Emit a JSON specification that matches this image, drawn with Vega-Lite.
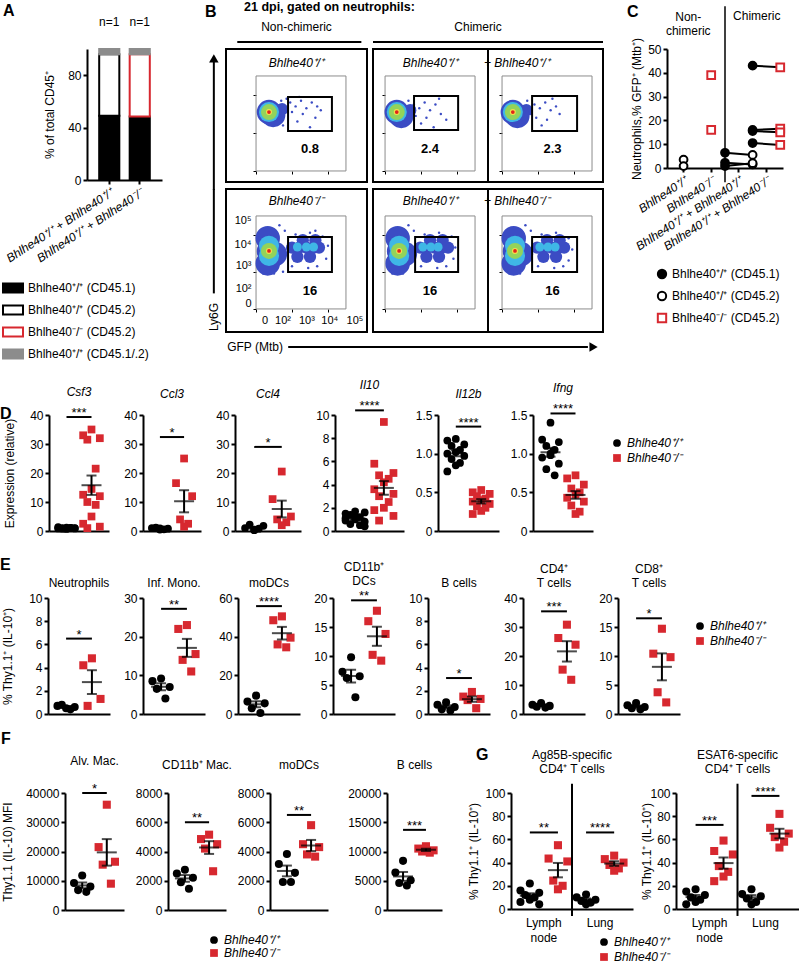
{
"$schema":"https://vega.github.io/schema/vega-lite/v6.json",
"padding":0,"autosize":{"type":"pad"},"background":"white",
"config":{"view":{"stroke":null},"font":"Liberation Sans",
"axis":{"domainColor":"black","domainWidth":2,"tickColor":"black","tickWidth":2,"tickSize":4,"labelColor":"black","labelFontSize":12,"titleColor":"black","titleFontSize":12,"titleFontWeight":"normal","grid":false,"labelPadding":2,"labelOverlap":false,"labelFlush":false},
"title":{"fontSize":12,"fontWeight":"normal","color":"black","frame":"group"},
"legend":{"labelFontSize":12,"labelColor":"black","padding":0},
"text":{"color":"black"}},
"datasets":{
"A":[
{"b":"Bhlhe40⁺/⁺ + Bhlhe40⁺/⁺","pop":"Bhlhe40⁺/⁺ (CD45.1)","v":49,"o":1},
{"b":"Bhlhe40⁺/⁺ + Bhlhe40⁺/⁺","pop":"Bhlhe40⁺/⁺ (CD45.2)","v":47,"o":2},
{"b":"Bhlhe40⁺/⁺ + Bhlhe40⁺/⁺","pop":"Bhlhe40⁺/⁺ (CD45.1/.2)","v":4,"o":3},
{"b":"Bhlhe40⁺/⁺ + Bhlhe40⁻/⁻","pop":"Bhlhe40⁺/⁺ (CD45.1)","v":48.5,"o":1},
{"b":"Bhlhe40⁺/⁺ + Bhlhe40⁻/⁻","pop":"Bhlhe40⁻/⁻ (CD45.2)","v":47.5,"o":2},
{"b":"Bhlhe40⁺/⁺ + Bhlhe40⁻/⁻","pop":"Bhlhe40⁺/⁺ (CD45.1/.2)","v":4,"o":3}],
"C":[
{"c":"c1","side":"C","pop":"Bhlhe40⁺/⁺ (CD45.2)","v":3.5},
{"c":"c1","side":"C","pop":"Bhlhe40⁺/⁺ (CD45.2)","v":0.8},
{"c":"c2","side":"C","pop":"Bhlhe40⁻/⁻ (CD45.2)","v":39},
{"c":"c2","side":"C","pop":"Bhlhe40⁻/⁻ (CD45.2)","v":16},
{"c":"c3","side":"L","pop":"Bhlhe40⁺/⁺ (CD45.1)","v":6.4,"pair":"a1"},
{"c":"c3","side":"R","pop":"Bhlhe40⁺/⁺ (CD45.2)","v":5.5,"pair":"a1"},
{"c":"c3","side":"L","pop":"Bhlhe40⁺/⁺ (CD45.1)","v":2.2,"pair":"a2"},
{"c":"c3","side":"R","pop":"Bhlhe40⁺/⁺ (CD45.2)","v":1.5,"pair":"a2"},
{"c":"c3","side":"L","pop":"Bhlhe40⁺/⁺ (CD45.1)","v":0.8,"pair":"a3"},
{"c":"c3","side":"R","pop":"Bhlhe40⁺/⁺ (CD45.2)","v":2.0,"pair":"a3"},
{"c":"c4","side":"L","pop":"Bhlhe40⁺/⁺ (CD45.1)","v":43,"pair":"b1"},
{"c":"c4","side":"R","pop":"Bhlhe40⁻/⁻ (CD45.2)","v":42.3,"pair":"b1"},
{"c":"c4","side":"L","pop":"Bhlhe40⁺/⁺ (CD45.1)","v":16,"pair":"b2"},
{"c":"c4","side":"R","pop":"Bhlhe40⁻/⁻ (CD45.2)","v":16.5,"pair":"b2"},
{"c":"c4","side":"L","pop":"Bhlhe40⁺/⁺ (CD45.1)","v":15.5,"pair":"b3"},
{"c":"c4","side":"R","pop":"Bhlhe40⁻/⁻ (CD45.2)","v":15,"pair":"b3"},
{"c":"c4","side":"L","pop":"Bhlhe40⁺/⁺ (CD45.1)","v":10.5,"pair":"b4"},
{"c":"c4","side":"R","pop":"Bhlhe40⁻/⁻ (CD45.2)","v":9.7,"pair":"b4"}],
"pts":[
{"p":"Csf3","g":"WT","m":3,"v":1.2},{"p":"Csf3","g":"WT","m":1,"v":0.9},{"p":"Csf3","g":"WT","m":5,"v":1.0},{"p":"Csf3","g":"WT","m":2,"v":0.8},{"p":"Csf3","g":"WT","m":4,"v":1.1},{"p":"Csf3","g":"WT","m":3,"v":0.7},{"p":"Csf3","g":"WT","m":1,"v":1.3},{"p":"Csf3","g":"WT","m":5,"v":0.9},{"p":"Csf3","g":"WT","m":2,"v":1.0},{"p":"Csf3","g":"WT","m":4,"v":1.1},
{"p":"Csf3","g":"KO","m":3,"v":35},{"p":"Csf3","g":"KO","m":1,"v":33},{"p":"Csf3","g":"KO","m":5,"v":32},{"p":"Csf3","g":"KO","m":2,"v":31.5},{"p":"Csf3","g":"KO","m":4,"v":21.5},{"p":"Csf3","g":"KO","m":3,"v":14.5},{"p":"Csf3","g":"KO","m":1,"v":12.5},{"p":"Csf3","g":"KO","m":5,"v":12},{"p":"Csf3","g":"KO","m":2,"v":10},{"p":"Csf3","g":"KO","m":4,"v":9},{"p":"Csf3","g":"KO","m":3,"v":5},{"p":"Csf3","g":"KO","m":1,"v":2.5},{"p":"Csf3","g":"KO","m":5,"v":1.5},{"p":"Csf3","g":"KO","m":2,"v":1},
{"p":"Ccl3","g":"WT","m":3,"v":0.5},{"p":"Ccl3","g":"WT","m":1,"v":1.0},{"p":"Ccl3","g":"WT","m":5,"v":0.8},{"p":"Ccl3","g":"WT","m":2,"v":1.2},{"p":"Ccl3","g":"WT","m":4,"v":0.6},{"p":"Ccl3","g":"WT","m":3,"v":0.9},
{"p":"Ccl3","g":"KO","m":3,"v":25},{"p":"Ccl3","g":"KO","m":1,"v":16.5},{"p":"Ccl3","g":"KO","m":5,"v":12},{"p":"Ccl3","g":"KO","m":2,"v":4},{"p":"Ccl3","g":"KO","m":4,"v":2.5},{"p":"Ccl3","g":"KO","m":3,"v":1.5},
{"p":"Ccl4","g":"WT","m":3,"v":0.5},{"p":"Ccl4","g":"WT","m":1,"v":1.0},{"p":"Ccl4","g":"WT","m":5,"v":1.8},{"p":"Ccl4","g":"WT","m":2,"v":2.2},{"p":"Ccl4","g":"WT","m":4,"v":0.8},{"p":"Ccl4","g":"WT","m":3,"v":0.3},
{"p":"Ccl4","g":"KO","m":3,"v":20.5},{"p":"Ccl4","g":"KO","m":1,"v":11},{"p":"Ccl4","g":"KO","m":5,"v":5},{"p":"Ccl4","g":"KO","m":2,"v":4},{"p":"Ccl4","g":"KO","m":4,"v":3},{"p":"Ccl4","g":"KO","m":3,"v":2},
{"p":"Il10","g":"WT","m":3,"v":1.7},{"p":"Il10","g":"WT","m":1,"v":1.5},{"p":"Il10","g":"WT","m":5,"v":1.6},{"p":"Il10","g":"WT","m":2,"v":1.4},{"p":"Il10","g":"WT","m":4,"v":1.2},{"p":"Il10","g":"WT","m":3,"v":1.0},{"p":"Il10","g":"WT","m":1,"v":0.9},{"p":"Il10","g":"WT","m":5,"v":0.8},{"p":"Il10","g":"WT","m":2,"v":0.6},{"p":"Il10","g":"WT","m":4,"v":0.5},{"p":"Il10","g":"WT","m":3,"v":1.3},{"p":"Il10","g":"WT","m":1,"v":1.1},{"p":"Il10","g":"WT","m":5,"v":0.4},
{"p":"Il10","g":"KO","m":3,"v":9.4},{"p":"Il10","g":"KO","m":1,"v":5.8},{"p":"Il10","g":"KO","m":5,"v":5.0},{"p":"Il10","g":"KO","m":2,"v":4.8},{"p":"Il10","g":"KO","m":4,"v":4.5},{"p":"Il10","g":"KO","m":3,"v":4.2},{"p":"Il10","g":"KO","m":1,"v":3.6},{"p":"Il10","g":"KO","m":5,"v":3.2},{"p":"Il10","g":"KO","m":2,"v":3.0},{"p":"Il10","g":"KO","m":4,"v":2.5},{"p":"Il10","g":"KO","m":3,"v":2.0},{"p":"Il10","g":"KO","m":1,"v":1.8},{"p":"Il10","g":"KO","m":5,"v":1.3},{"p":"Il10","g":"KO","m":2,"v":0.9},
{"p":"Il12b","g":"WT","m":3,"v":1.19},{"p":"Il12b","g":"WT","m":1,"v":1.17},{"p":"Il12b","g":"WT","m":5,"v":1.12},{"p":"Il12b","g":"WT","m":2,"v":1.1},{"p":"Il12b","g":"WT","m":4,"v":1.05},{"p":"Il12b","g":"WT","m":3,"v":1.02},{"p":"Il12b","g":"WT","m":1,"v":1.0},{"p":"Il12b","g":"WT","m":5,"v":0.97},{"p":"Il12b","g":"WT","m":2,"v":0.93},{"p":"Il12b","g":"WT","m":4,"v":0.88},{"p":"Il12b","g":"WT","m":3,"v":0.85},{"p":"Il12b","g":"WT","m":1,"v":0.77},
{"p":"Il12b","g":"KO","m":3,"v":0.53},{"p":"Il12b","g":"KO","m":1,"v":0.5},{"p":"Il12b","g":"KO","m":5,"v":0.48},{"p":"Il12b","g":"KO","m":2,"v":0.45},{"p":"Il12b","g":"KO","m":4,"v":0.42},{"p":"Il12b","g":"KO","m":3,"v":0.4},{"p":"Il12b","g":"KO","m":1,"v":0.38},{"p":"Il12b","g":"KO","m":5,"v":0.35},{"p":"Il12b","g":"KO","m":2,"v":0.32},{"p":"Il12b","g":"KO","m":4,"v":0.3},{"p":"Il12b","g":"KO","m":3,"v":0.26},{"p":"Il12b","g":"KO","m":1,"v":0.22},
{"p":"Ifng","g":"WT","m":3,"v":1.4},{"p":"Ifng","g":"WT","m":1,"v":1.18},{"p":"Ifng","g":"WT","m":5,"v":1.15},{"p":"Ifng","g":"WT","m":2,"v":1.1},{"p":"Ifng","g":"WT","m":4,"v":1.05},{"p":"Ifng","g":"WT","m":3,"v":1.0},{"p":"Ifng","g":"WT","m":1,"v":0.95},{"p":"Ifng","g":"WT","m":5,"v":0.87},{"p":"Ifng","g":"WT","m":2,"v":0.8},{"p":"Ifng","g":"WT","m":4,"v":0.72},{"p":"Ifng","g":"WT","m":3,"v":0.98},
{"p":"Ifng","g":"KO","m":3,"v":0.72},{"p":"Ifng","g":"KO","m":1,"v":0.68},{"p":"Ifng","g":"KO","m":5,"v":0.6},{"p":"Ifng","g":"KO","m":2,"v":0.55},{"p":"Ifng","g":"KO","m":4,"v":0.5},{"p":"Ifng","g":"KO","m":3,"v":0.47},{"p":"Ifng","g":"KO","m":1,"v":0.43},{"p":"Ifng","g":"KO","m":5,"v":0.38},{"p":"Ifng","g":"KO","m":2,"v":0.33},{"p":"Ifng","g":"KO","m":4,"v":0.25},{"p":"Ifng","g":"KO","m":3,"v":0.22},
{"p":"Neut","g":"WT","m":3,"v":0.5},{"p":"Neut","g":"WT","m":1,"v":0.7},{"p":"Neut","g":"WT","m":5,"v":0.6},{"p":"Neut","g":"WT","m":2,"v":0.8},{"p":"Neut","g":"WT","m":4,"v":0.4},
{"p":"Neut","g":"KO","m":3,"v":4.8},{"p":"Neut","g":"KO","m":1,"v":4.2},{"p":"Neut","g":"KO","m":5,"v":1.3},{"p":"Neut","g":"KO","m":2,"v":0.7},
{"p":"Mono","g":"WT","m":3,"v":9.2},{"p":"Mono","g":"WT","m":1,"v":8.5},{"p":"Mono","g":"WT","m":5,"v":7},{"p":"Mono","g":"WT","m":2,"v":6.5},{"p":"Mono","g":"WT","m":4,"v":4},
{"p":"Mono","g":"KO","m":3,"v":23},{"p":"Mono","g":"KO","m":1,"v":22},{"p":"Mono","g":"KO","m":5,"v":15.5},{"p":"Mono","g":"KO","m":2,"v":14},{"p":"Mono","g":"KO","m":4,"v":11},
{"p":"EmoDC","g":"WT","m":3,"v":9.5},{"p":"EmoDC","g":"WT","m":1,"v":6.5},{"p":"EmoDC","g":"WT","m":5,"v":5.5},{"p":"EmoDC","g":"WT","m":2,"v":3},{"p":"EmoDC","g":"WT","m":4,"v":0.5},
{"p":"EmoDC","g":"KO","m":3,"v":50.5},{"p":"EmoDC","g":"KO","m":1,"v":48.5},{"p":"EmoDC","g":"KO","m":5,"v":39.5},{"p":"EmoDC","g":"KO","m":2,"v":36},{"p":"EmoDC","g":"KO","m":4,"v":34.5},
{"p":"DC","g":"WT","m":3,"v":9.8},{"p":"DC","g":"WT","m":1,"v":7.3},{"p":"DC","g":"WT","m":5,"v":6.5},{"p":"DC","g":"WT","m":2,"v":6.2},{"p":"DC","g":"WT","m":4,"v":2.9},
{"p":"DC","g":"KO","m":3,"v":17.8},{"p":"DC","g":"KO","m":1,"v":16},{"p":"DC","g":"KO","m":5,"v":13.8},{"p":"DC","g":"KO","m":2,"v":10.2},{"p":"DC","g":"KO","m":4,"v":9.2},
{"p":"EB","g":"WT","m":3,"v":1.0},{"p":"EB","g":"WT","m":1,"v":0.8},{"p":"EB","g":"WT","m":5,"v":0.6},{"p":"EB","g":"WT","m":2,"v":0.4},{"p":"EB","g":"WT","m":4,"v":0.3},
{"p":"EB","g":"KO","m":3,"v":1.9},{"p":"EB","g":"KO","m":1,"v":1.5},{"p":"EB","g":"KO","m":5,"v":1.3},{"p":"EB","g":"KO","m":2,"v":1.2},{"p":"EB","g":"KO","m":4,"v":0.5},
{"p":"CD4","g":"WT","m":3,"v":3.8},{"p":"CD4","g":"WT","m":1,"v":3.2},{"p":"CD4","g":"WT","m":5,"v":2.8},{"p":"CD4","g":"WT","m":2,"v":2.5},{"p":"CD4","g":"WT","m":4,"v":2.2},
{"p":"CD4","g":"KO","m":3,"v":30.8},{"p":"CD4","g":"KO","m":1,"v":26.2},{"p":"CD4","g":"KO","m":5,"v":23.9},{"p":"CD4","g":"KO","m":2,"v":15.3},{"p":"CD4","g":"KO","m":4,"v":11.8},
{"p":"CD8","g":"WT","m":3,"v":1.9},{"p":"CD8","g":"WT","m":1,"v":1.5},{"p":"CD8","g":"WT","m":5,"v":1.2},{"p":"CD8","g":"WT","m":2,"v":1.0},{"p":"CD8","g":"WT","m":4,"v":0.8},
{"p":"CD8","g":"KO","m":3,"v":14.7},{"p":"CD8","g":"KO","m":1,"v":10.4},{"p":"CD8","g":"KO","m":5,"v":9.8},{"p":"CD8","g":"KO","m":2,"v":3.75},{"p":"CD8","g":"KO","m":4,"v":2.0},
{"p":"Alv","g":"WT","m":3,"v":11800},{"p":"Alv","g":"WT","m":1,"v":9200},{"p":"Alv","g":"WT","m":5,"v":8000},{"p":"Alv","g":"WT","m":2,"v":6800},{"p":"Alv","g":"WT","m":4,"v":6200},
{"p":"Alv","g":"KO","m":3,"v":36000},{"p":"Alv","g":"KO","m":1,"v":21500},{"p":"Alv","g":"KO","m":5,"v":16500},{"p":"Alv","g":"KO","m":2,"v":15500},{"p":"Alv","g":"KO","m":4,"v":9000},
{"p":"Mac","g":"WT","m":3,"v":2750},{"p":"Mac","g":"WT","m":1,"v":2500},{"p":"Mac","g":"WT","m":5,"v":2200},{"p":"Mac","g":"WT","m":2,"v":1900},{"p":"Mac","g":"WT","m":4,"v":1450},
{"p":"Mac","g":"KO","m":3,"v":5150},{"p":"Mac","g":"KO","m":1,"v":4850},{"p":"Mac","g":"KO","m":5,"v":4500},{"p":"Mac","g":"KO","m":2,"v":4200},{"p":"Mac","g":"KO","m":4,"v":2650},
{"p":"FmoDC","g":"WT","m":3,"v":3830},{"p":"FmoDC","g":"WT","m":1,"v":3140},{"p":"FmoDC","g":"WT","m":5,"v":2540},{"p":"FmoDC","g":"WT","m":2,"v":1920},{"p":"FmoDC","g":"WT","m":4,"v":1920},
{"p":"FmoDC","g":"KO","m":3,"v":5800},{"p":"FmoDC","g":"KO","m":1,"v":4500},{"p":"FmoDC","g":"KO","m":5,"v":4300},{"p":"FmoDC","g":"KO","m":2,"v":3800},{"p":"FmoDC","g":"KO","m":4,"v":3650},
{"p":"FB","g":"WT","m":3,"v":8400},{"p":"FB","g":"WT","m":1,"v":6400},{"p":"FB","g":"WT","m":5,"v":5100},{"p":"FB","g":"WT","m":2,"v":4600},{"p":"FB","g":"WT","m":4,"v":4200},
{"p":"FB","g":"KO","m":3,"v":10900},{"p":"FB","g":"KO","m":1,"v":10500},{"p":"FB","g":"KO","m":5,"v":10200},{"p":"FB","g":"KO","m":2,"v":10000},{"p":"FB","g":"KO","m":4,"v":9800}],
"gpts":[
{"p":"Ag85B","g":"LN|WT","k":"WT","m":3,"v":22},{"p":"Ag85B","g":"LN|WT","k":"WT","m":1,"v":16},{"p":"Ag85B","g":"LN|WT","k":"WT","m":5,"v":14},{"p":"Ag85B","g":"LN|WT","k":"WT","m":2,"v":12},{"p":"Ag85B","g":"LN|WT","k":"WT","m":4,"v":10},{"p":"Ag85B","g":"LN|WT","k":"WT","m":3,"v":8},{"p":"Ag85B","g":"LN|WT","k":"WT","m":1,"v":6},{"p":"Ag85B","g":"LN|WT","k":"WT","m":5,"v":4},
{"p":"Ag85B","g":"LN|KO","k":"KO","m":3,"v":55},{"p":"Ag85B","g":"LN|KO","k":"KO","m":1,"v":43.5},{"p":"Ag85B","g":"LN|KO","k":"KO","m":5,"v":41},{"p":"Ag85B","g":"LN|KO","k":"KO","m":2,"v":24.5},{"p":"Ag85B","g":"LN|KO","k":"KO","m":4,"v":20},{"p":"Ag85B","g":"LN|KO","k":"KO","m":3,"v":17},
{"p":"Ag85B","g":"Lu|WT","k":"WT","m":3,"v":12.5},{"p":"Ag85B","g":"Lu|WT","k":"WT","m":1,"v":10},{"p":"Ag85B","g":"Lu|WT","k":"WT","m":5,"v":8},{"p":"Ag85B","g":"Lu|WT","k":"WT","m":2,"v":7},{"p":"Ag85B","g":"Lu|WT","k":"WT","m":4,"v":5.5},{"p":"Ag85B","g":"Lu|WT","k":"WT","m":3,"v":4},
{"p":"Ag85B","g":"Lu|KO","k":"KO","m":3,"v":46},{"p":"Ag85B","g":"Lu|KO","k":"KO","m":1,"v":43},{"p":"Ag85B","g":"Lu|KO","k":"KO","m":5,"v":40},{"p":"Ag85B","g":"Lu|KO","k":"KO","m":2,"v":38},{"p":"Ag85B","g":"Lu|KO","k":"KO","m":4,"v":35},{"p":"Ag85B","g":"Lu|KO","k":"KO","m":3,"v":33},
{"p":"ESAT6","g":"LN|WT","k":"WT","m":3,"v":17},{"p":"ESAT6","g":"LN|WT","k":"WT","m":1,"v":15},{"p":"ESAT6","g":"LN|WT","k":"WT","m":5,"v":12},{"p":"ESAT6","g":"LN|WT","k":"WT","m":2,"v":10},{"p":"ESAT6","g":"LN|WT","k":"WT","m":4,"v":8},{"p":"ESAT6","g":"LN|WT","k":"WT","m":3,"v":6},{"p":"ESAT6","g":"LN|WT","k":"WT","m":1,"v":4},
{"p":"ESAT6","g":"LN|KO","k":"KO","m":3,"v":59},{"p":"ESAT6","g":"LN|KO","k":"KO","m":1,"v":50},{"p":"ESAT6","g":"LN|KO","k":"KO","m":5,"v":47},{"p":"ESAT6","g":"LN|KO","k":"KO","m":2,"v":37},{"p":"ESAT6","g":"LN|KO","k":"KO","m":4,"v":32},{"p":"ESAT6","g":"LN|KO","k":"KO","m":3,"v":28},{"p":"ESAT6","g":"LN|KO","k":"KO","m":1,"v":24},
{"p":"ESAT6","g":"Lu|WT","k":"WT","m":3,"v":17},{"p":"ESAT6","g":"Lu|WT","k":"WT","m":1,"v":13},{"p":"ESAT6","g":"Lu|WT","k":"WT","m":5,"v":11},{"p":"ESAT6","g":"Lu|WT","k":"WT","m":2,"v":9},{"p":"ESAT6","g":"Lu|WT","k":"WT","m":4,"v":6},{"p":"ESAT6","g":"Lu|WT","k":"WT","m":3,"v":4},
{"p":"ESAT6","g":"Lu|KO","k":"KO","m":3,"v":82},{"p":"ESAT6","g":"Lu|KO","k":"KO","m":1,"v":70},{"p":"ESAT6","g":"Lu|KO","k":"KO","m":5,"v":65},{"p":"ESAT6","g":"Lu|KO","k":"KO","m":2,"v":62},{"p":"ESAT6","g":"Lu|KO","k":"KO","m":4,"v":58},{"p":"ESAT6","g":"Lu|KO","k":"KO","m":3,"v":53}],
"sig":[
{"p":"Csf3","g":"WT","g2":"KO","v":39.3,"s":"***"},{"p":"Ccl3","g":"WT","g2":"KO","v":32.4,"s":"*"},{"p":"Ccl4","g":"WT","g2":"KO","v":29,"s":"*"},{"p":"Il10","g":"WT","g2":"KO","v":10.4,"s":"****"},{"p":"Il12b","g":"WT","g2":"KO","v":1.35,"s":"****"},{"p":"Ifng","g":"WT","g2":"KO","v":1.52,"s":"****"},
{"p":"Neut","g":"WT","g2":"KO","v":6.5,"s":"*"},{"p":"Mono","g":"WT","g2":"KO","v":27.2,"s":"**"},{"p":"EmoDC","g":"WT","g2":"KO","v":55.8,"s":"****"},{"p":"DC","g":"WT","g2":"KO","v":19.6,"s":"**"},{"p":"EB","g":"WT","g2":"KO","v":3.1,"s":"*"},{"p":"CD4","g":"WT","g2":"KO","v":35.4,"s":"***"},{"p":"CD8","g":"WT","g2":"KO","v":16.5,"s":"*"},
{"p":"Alv","g":"WT","g2":"KO","v":40000,"s":"*"},{"p":"Mac","g":"WT","g2":"KO","v":6000,"s":"**"},{"p":"FmoDC","g":"WT","g2":"KO","v":6500,"s":"**"},{"p":"FB","g":"WT","g2":"KO","v":13700,"s":"***"},
{"p":"Ag85B","g":"LN|WT","g2":"LN|KO","v":66,"s":"**"},{"p":"Ag85B","g":"Lu|WT","g2":"Lu|KO","v":66,"s":"****"},{"p":"ESAT6","g":"LN|WT","g2":"LN|KO","v":72.5,"s":"***"},{"p":"ESAT6","g":"Lu|WT","g2":"Lu|KO","v":97.5,"s":"****"}],
"gann":[
{"p":"Ag85B","g":"LN|WT","v":-8,"t":"Lymph\nnode"},{"p":"Ag85B","g":"Lu|WT","v":-8,"t":"Lung"},
{"p":"ESAT6","g":"LN|WT","v":-8,"t":"Lymph\nnode"},{"p":"ESAT6","g":"Lu|WT","v":-8,"t":"Lung"}],
"gdiv":[
{"p":"Ag85B","g":"Lu|WT","v":-6,"v2":108},{"p":"ESAT6","g":"Lu|WT","v":-6,"v2":108}],
"flow":[
{"f":"TL","x":1.9,"y":3.6,"r":1},{"f":"TL","x":2.2,"y":3.4,"r":1},{"f":"TL","x":2.5,"y":3.7,"r":1},{"f":"TL","x":2.8,"y":3.3,"r":1},{"f":"TL","x":3.1,"y":3.6,"r":1},{"f":"TL","x":2.0,"y":3.1,"r":1},{"f":"TL","x":2.6,"y":3.0,"r":1},{"f":"TL","x":3.4,"y":3.4,"r":1},{"f":"TL","x":1.7,"y":3.8,"r":1},{"f":"TL","x":2.3,"y":2.6,"r":1},{"f":"TL","x":3.0,"y":2.3,"r":1},{"f":"TL","x":1.5,"y":2.4,"r":1},{"f":"TL","x":3.6,"y":3.2,"r":1},{"f":"TL","x":1.4,"y":3.7,"r":1},{"f":"TL","x":2.4,"y":3.9,"r":1},{"f":"TL","x":3.3,"y":2.8,"r":1},
{"f":"TL","x":1.45,"y":3.25,"r":5},{"f":"TL","x":0.95,"y":2.95,"r":8},{"f":"TL","x":0.72,"y":3.1,"r":8},{"f":"TL","x":0.72,"y":3.1,"r":7},{"f":"TL","x":0.72,"y":3.1,"r":6},{"f":"TL","x":0.72,"y":3.1,"r":3},{"f":"TL","x":0.72,"y":3.1,"r":2},
{"f":"TR1","x":1.6,"y":3.5,"r":1},{"f":"TR1","x":1.9,"y":3.3,"r":1},{"f":"TR1","x":2.2,"y":3.6,"r":1},{"f":"TR1","x":2.5,"y":3.2,"r":1},{"f":"TR1","x":2.8,"y":3.5,"r":1},{"f":"TR1","x":1.7,"y":2.9,"r":1},{"f":"TR1","x":2.3,"y":2.8,"r":1},{"f":"TR1","x":3.1,"y":3.0,"r":1},{"f":"TR1","x":2.0,"y":2.5,"r":1},{"f":"TR1","x":2.7,"y":2.3,"r":1},{"f":"TR1","x":3.4,"y":2.7,"r":1},{"f":"TR1","x":1.3,"y":3.7,"r":1},{"f":"TR1","x":3.0,"y":3.8,"r":1},
{"f":"TR1","x":1.4,"y":3.2,"r":5},{"f":"TR1","x":0.9,"y":2.9,"r":8},{"f":"TR1","x":0.65,"y":3.1,"r":8},{"f":"TR1","x":0.65,"y":3.1,"r":7},{"f":"TR1","x":0.65,"y":3.1,"r":6},{"f":"TR1","x":0.65,"y":3.1,"r":3},{"f":"TR1","x":0.65,"y":3.1,"r":2},
{"f":"TR2","x":1.8,"y":3.5,"r":1},{"f":"TR2","x":2.1,"y":3.3,"r":1},{"f":"TR2","x":2.4,"y":3.6,"r":1},{"f":"TR2","x":2.7,"y":3.2,"r":1},{"f":"TR2","x":3.0,"y":3.4,"r":1},{"f":"TR2","x":1.9,"y":2.8,"r":1},{"f":"TR2","x":2.5,"y":2.7,"r":1},{"f":"TR2","x":3.2,"y":3.0,"r":1},{"f":"TR2","x":2.2,"y":2.4,"r":1},{"f":"TR2","x":1.6,"y":3.0,"r":1},{"f":"TR2","x":1.4,"y":3.7,"r":1},{"f":"TR2","x":2.8,"y":3.8,"r":1},
{"f":"TR2","x":1.35,"y":3.2,"r":5},{"f":"TR2","x":0.85,"y":2.9,"r":8},{"f":"TR2","x":0.6,"y":3.1,"r":8},{"f":"TR2","x":0.6,"y":3.1,"r":7},{"f":"TR2","x":0.6,"y":3.1,"r":6},{"f":"TR2","x":0.6,"y":3.1,"r":3},{"f":"TR2","x":0.6,"y":3.1,"r":2},
{"f":"BL","x":1.6,"y":4.2,"r":1},{"f":"BL","x":2.2,"y":4.0,"r":1},{"f":"BL","x":3.0,"y":4.1,"r":1},{"f":"BL","x":3.7,"y":3.9,"r":1},{"f":"BL","x":4.0,"y":3.4,"r":1},{"f":"BL","x":3.9,"y":2.7,"r":1},{"f":"BL","x":2.0,"y":2.3,"r":1},{"f":"BL","x":2.9,"y":2.2,"r":1},{"f":"BL","x":1.3,"y":4.5,"r":1},{"f":"BL","x":1.0,"y":1.9,"r":1},{"f":"BL","x":0.4,"y":1.9,"r":1},{"f":"BL","x":3.4,"y":2.3,"r":1},{"f":"BL","x":1.5,"y":2.0,"r":1},{"f":"BL","x":3.3,"y":4.2,"r":1},
{"f":"BL","x":2.0,"y":3.3,"r":5},{"f":"BL","x":2.4,"y":3.3,"r":5},{"f":"BL","x":2.8,"y":3.3,"r":5},{"f":"BL","x":3.2,"y":3.3,"r":5},{"f":"BL","x":3.5,"y":3.3,"r":5},{"f":"BL","x":2.3,"y":2.8,"r":5},{"f":"BL","x":3.0,"y":2.8,"r":5},{"f":"BL","x":2.6,"y":3.7,"r":5},{"f":"BL","x":3.3,"y":3.7,"r":5},
{"f":"BL","x":2.3,"y":3.33,"r":4},{"f":"BL","x":2.8,"y":3.33,"r":4},{"f":"BL","x":3.2,"y":3.33,"r":4},
{"f":"BL","x":0.65,"y":3.8,"r":8},{"f":"BL","x":0.72,"y":3.1,"r":8},{"f":"BL","x":0.65,"y":2.45,"r":8},{"f":"BL","x":1.05,"y":2.95,"r":8},{"f":"BL","x":0.72,"y":3.4,"r":7},{"f":"BL","x":0.72,"y":2.85,"r":7},{"f":"BL","x":0.72,"y":3.12,"r":6},{"f":"BL","x":0.72,"y":3.12,"r":3},{"f":"BL","x":0.72,"y":3.12,"r":2},
{"f":"BR1","x":1.6,"y":4.2,"r":1},{"f":"BR1","x":2.2,"y":4.0,"r":1},{"f":"BR1","x":3.0,"y":4.1,"r":1},{"f":"BR1","x":3.7,"y":3.9,"r":1},{"f":"BR1","x":3.9,"y":3.3,"r":1},{"f":"BR1","x":3.8,"y":2.7,"r":1},{"f":"BR1","x":2.0,"y":2.3,"r":1},{"f":"BR1","x":2.9,"y":2.2,"r":1},{"f":"BR1","x":1.3,"y":4.5,"r":1},{"f":"BR1","x":1.0,"y":1.9,"r":1},{"f":"BR1","x":0.4,"y":1.9,"r":1},{"f":"BR1","x":3.4,"y":2.3,"r":1},
{"f":"BR1","x":1.95,"y":3.3,"r":5},{"f":"BR1","x":2.35,"y":3.3,"r":5},{"f":"BR1","x":2.75,"y":3.3,"r":5},{"f":"BR1","x":3.15,"y":3.3,"r":5},{"f":"BR1","x":3.5,"y":3.3,"r":5},{"f":"BR1","x":2.3,"y":2.8,"r":5},{"f":"BR1","x":3.0,"y":2.8,"r":5},{"f":"BR1","x":2.5,"y":3.7,"r":5},{"f":"BR1","x":3.2,"y":3.7,"r":5},
{"f":"BR1","x":2.1,"y":3.33,"r":4},{"f":"BR1","x":2.55,"y":3.33,"r":4},{"f":"BR1","x":2.95,"y":3.33,"r":4},
{"f":"BR1","x":0.7,"y":3.8,"r":8},{"f":"BR1","x":0.78,"y":3.1,"r":8},{"f":"BR1","x":0.7,"y":2.45,"r":8},{"f":"BR1","x":1.1,"y":2.95,"r":8},{"f":"BR1","x":0.78,"y":3.4,"r":7},{"f":"BR1","x":0.78,"y":2.85,"r":7},{"f":"BR1","x":0.78,"y":3.12,"r":6},{"f":"BR1","x":0.78,"y":3.12,"r":3},{"f":"BR1","x":0.78,"y":3.12,"r":2},
{"f":"BR2","x":1.6,"y":4.2,"r":1},{"f":"BR2","x":2.2,"y":4.0,"r":1},{"f":"BR2","x":3.0,"y":4.1,"r":1},{"f":"BR2","x":3.7,"y":3.8,"r":1},{"f":"BR2","x":3.9,"y":3.2,"r":1},{"f":"BR2","x":3.7,"y":2.6,"r":1},{"f":"BR2","x":2.0,"y":2.3,"r":1},{"f":"BR2","x":2.9,"y":2.2,"r":1},{"f":"BR2","x":1.3,"y":4.5,"r":1},{"f":"BR2","x":1.0,"y":1.9,"r":1},{"f":"BR2","x":0.4,"y":1.9,"r":1},{"f":"BR2","x":3.4,"y":2.3,"r":1},
{"f":"BR2","x":1.95,"y":3.3,"r":5},{"f":"BR2","x":2.35,"y":3.3,"r":5},{"f":"BR2","x":2.75,"y":3.3,"r":5},{"f":"BR2","x":3.15,"y":3.3,"r":5},{"f":"BR2","x":3.45,"y":3.3,"r":5},{"f":"BR2","x":2.3,"y":2.8,"r":5},{"f":"BR2","x":3.0,"y":2.8,"r":5},{"f":"BR2","x":2.5,"y":3.7,"r":5},{"f":"BR2","x":3.2,"y":3.7,"r":5},
{"f":"BR2","x":2.1,"y":3.33,"r":4},{"f":"BR2","x":2.55,"y":3.33,"r":4},{"f":"BR2","x":2.95,"y":3.33,"r":4},
{"f":"BR2","x":0.65,"y":3.8,"r":8},{"f":"BR2","x":0.72,"y":3.1,"r":8},{"f":"BR2","x":0.65,"y":2.45,"r":8},{"f":"BR2","x":1.05,"y":2.95,"r":8},{"f":"BR2","x":0.72,"y":3.4,"r":7},{"f":"BR2","x":0.72,"y":2.85,"r":7},{"f":"BR2","x":0.72,"y":3.12,"r":6},{"f":"BR2","x":0.72,"y":3.12,"r":3},{"f":"BR2","x":0.72,"y":3.12,"r":2}],
"gates":[
{"f":"TL","x1":1.78,"x2":4.22,"y1":2.1,"y2":3.89,"cx":3.0,"ty":1.16,"pct":"0.8"},
{"f":"TR1","x1":1.61,"x2":4.06,"y1":2.16,"y2":3.95,"cx":2.5,"ty":1.16,"pct":"2.4"},
{"f":"TR2","x1":1.67,"x2":4.17,"y1":2.1,"y2":3.95,"cx":2.8,"ty":1.16,"pct":"2.3"},
{"f":"BL","x1":1.78,"x2":4.22,"y1":1.99,"y2":3.87,"cx":3.0,"ty":0.97,"pct":"16"},
{"f":"BR1","x1":1.67,"x2":4.06,"y1":1.99,"y2":3.87,"cx":2.5,"ty":0.97,"pct":"16"},
{"f":"BR2","x1":1.67,"x2":4.17,"y1":1.99,"y2":3.87,"cx":2.8,"ty":0.97,"pct":"16"}],
"blx":[{"p":0.5,"t":"0"},{"p":1.5,"t":"10²"},{"p":2.83,"t":"10³"},{"p":4.1,"t":"10⁴"},{"p":5.5,"t":"10⁵"}],
"bly":[{"p":0.27,"t":"0"},{"p":1.08,"t":"10²"},{"p":2.31,"t":"10³"},{"p":3.44,"t":"10⁴"},{"p":4.75,"t":"10⁵"}]
},
"spacing":0,"bounds":"flush",
"resolve":{"scale":{"color":"independent","fill":"independent","stroke":"independent","shape":"independent","size":"independent","xOffset":"independent"},"legend":{"color":"independent","fill":"independent","stroke":"independent","shape":"independent","size":"independent"}},
"vconcat":[
{"hconcat":[
 {"width":226,"height":2,"data":{"values":[]},"mark":"point","encoding":{},"title":{"text":"21 dpi, gated on neutrophils:","anchor":"start","fontWeight":"bold","fontSize":12.5,"dx":244,"offset":27}},
 {"width":141,"height":2,"title":{"text":"Non-chimeric","anchor":"middle","offset":6},"data":{"values":[{}]},"mark":{"type":"rule","color":"black","strokeWidth":2},"encoding":{"x":{"datum":0.08,"type":"quantitative","scale":{"domain":[0,1]},"axis":null},"x2":{"datum":0.96},"y":{"datum":0,"type":"quantitative","scale":{"domain":[0,1]},"axis":null}}},
 {"width":6,"height":1,"data":{"values":[]},"mark":"point","encoding":{}},
 {"width":230,"height":2,"title":{"text":"Chimeric","anchor":"middle","offset":6,"dx":-10},"data":{"values":[{}]},"mark":{"type":"rule","color":"black","strokeWidth":2},"encoding":{"x":{"datum":0,"type":"quantitative","scale":{"domain":[0,1]},"axis":null},"x2":{"datum":1},"y":{"datum":0,"type":"quantitative","scale":{"domain":[0,1]},"axis":null}}}
],"spacing":0,"bounds":"flush","resolve":{"scale":{"color":"independent","fill":"independent","stroke":"independent","shape":"independent","size":"independent","xOffset":"independent"},"legend":{"color":"independent","fill":"independent","stroke":"independent","shape":"independent","size":"independent"}}},
{"width":1,"height":9,"data":{"values":[]},"mark":"point","encoding":{}},
{"hconcat":[
 {"width":87,"height":1,"data":{"values":[]},"mark":"point","encoding":{}},
 {"width":75,"height":131,"title":{"text":"A","fontSize":16,"fontWeight":"bold","anchor":"start","dx":-84,"offset":-3},"layer":[
  {"data":{"name":"A"},"mark":{"type":"bar","strokeWidth":2},
   "encoding":{
    "x":{"field":"b","type":"nominal","scale":{"domain":["Bhlhe40⁺/⁺ + Bhlhe40⁺/⁺","Bhlhe40⁺/⁺ + Bhlhe40⁻/⁻"],"paddingInner":0.34,"paddingOuter":0.4},"axis":{"title":null,"labelAngle":-33,"labelFontStyle":"italic","labelPadding":3}},
    "y":{"field":"v","type":"quantitative","stack":"zero","scale":{"domain":[0,100],"nice":false},"axis":{"values":[0,20,40,60,80,100],"title":"% of total CD45⁺","titlePadding":11}},
    "order":{"field":"o","type":"quantitative"},
    "fill":{"field":"pop","type":"nominal","scale":{"domain":["Bhlhe40⁺/⁺ (CD45.1)","Bhlhe40⁺/⁺ (CD45.2)","Bhlhe40⁻/⁻ (CD45.2)","Bhlhe40⁺/⁺ (CD45.1/.2)"],"range":["black","white","white","#8c8c8c"]},"legend":{"orient":"none","legendX":-85,"legendY":228,"title":null,"symbolType":"M-1,-0.45H1V0.45H-1Z","symbolSize":400,"symbolStrokeWidth":2,"labelFontSize":12,"rowPadding":2,"labelOffset":4}},
    "stroke":{"field":"pop","type":"nominal","scale":{"domain":["Bhlhe40⁺/⁺ (CD45.1)","Bhlhe40⁺/⁺ (CD45.2)","Bhlhe40⁻/⁻ (CD45.2)","Bhlhe40⁺/⁺ (CD45.1/.2)"],"range":["black","black","#d7282f","#8c8c8c"]},"legend":{"orient":"none","legendX":-85,"legendY":228,"title":null,"symbolType":"M-1,-0.45H1V0.45H-1Z","symbolSize":400,"symbolStrokeWidth":2,"labelFontSize":12,"rowPadding":2,"labelOffset":4}}}},
  {"data":{"values":[{"b":"Bhlhe40⁺/⁺ + Bhlhe40⁺/⁺","n":"n=1"},{"b":"Bhlhe40⁺/⁺ + Bhlhe40⁻/⁻","n":"n=1"}]},"mark":{"type":"text","fontSize":12,"baseline":"bottom","dy":-20},
   "encoding":{"x":{"field":"b","type":"nominal"},"y":{"datum":100,"type":"quantitative"},"text":{"field":"n"}}}
 ]},
 {"width":64,"height":133,"title":{"text":"B","fontSize":16,"fontWeight":"bold","anchor":"start","dx":43,"offset":29},"layer":[
  {"data":{"values":[{}]},"mark":{"type":"rule","color":"black","strokeWidth":2},"encoding":{"x":{"datum":0.81,"type":"quantitative","scale":{"domain":[0,1]},"axis":null},"y":{"datum":-0.06,"type":"quantitative","scale":{"domain":[0,1]},"axis":null},"y2":{"datum":0.92}}},
  {"data":{"values":[{}]},"mark":{"type":"point","shape":"triangle-up","filled":true,"color":"black","size":90,"opacity":1},"encoding":{"x":{"datum":0.81,"type":"quantitative","scale":{"domain":[0,1]},"axis":null},"y":{"datum":0.93,"type":"quantitative","scale":{"domain":[0,1]},"axis":null}}}
 ]},
 {"width":141,"height":133,"view":{"stroke":"black","strokeWidth":2},"title":{"text":"Bhlhe40⁺/⁺","fontStyle":"italic","anchor":"middle","offset":-21},"layer":[
  {"data":{"values":[{}]},"mark":{"type":"rect","fill":"transparent","stroke":"#8c8c8c","strokeWidth":1},"encoding":{"x":{"datum":0,"type":"quantitative","scale":{"domain":[-1.67,6.17],"nice":false,"zero":false},"axis":{"orient":"bottom","offset":-11,"domain":false,"labels":false,"tickSize":3,"tickWidth":1,"title":null,"values":[0,0.25,0.5,0.75,1,1.25,1.5,1.75,2,2.25,2.5,2.75,3,3.25,3.5,3.75,4,4.25,4.5,4.75,5]}},"x2":{"datum":5},"y":{"datum":0,"type":"quantitative","scale":{"domain":[-0.58,6.42],"nice":false,"zero":false},"axis":{"orient":"left","offset":-30,"domain":false,"labels":false,"tickSize":3,"tickWidth":1,"title":null,"values":[0,0.25,0.5,0.75,1,1.25,1.5,1.75,2,2.25,2.5,2.75,3,3.25,3.5,3.75,4,4.25,4.5,4.75,5]}},"y2":{"datum":5}}},
  {"data":{"name":"flow"},"transform":[{"filter":"datum.f=='TL'"}],"mark":{"type":"circle","opacity":1},"encoding":{"x":{"field":"x","type":"quantitative","scale":{"domain":[-1.67,6.17],"nice":false,"zero":false}},"y":{"field":"y","type":"quantitative","scale":{"domain":[-0.58,6.42],"nice":false,"zero":false}},"color":{"field":"r","type":"ordinal","scale":{"domain":[1,2,3,4,5,6,7,8],"range":["#3b4cc4","#e0231b","#f4e04a","#3fb7e6","#3b4cc4","#93d35a","#3fb7e6","#3b4cc4"]},"legend":null},"size":{"field":"r","type":"quantitative","scale":{"type":"pow","exponent":3,"domain":[1,8],"range":[6,600],"zero":false},"legend":null}}},
  {"data":{"name":"gates"},"transform":[{"filter":"datum.f=='TL'"}],"mark":{"type":"rect","fill":"transparent","stroke":"black","strokeWidth":2},"encoding":{"x":{"field":"x1","type":"quantitative","scale":{"domain":[-1.67,6.17],"nice":false,"zero":false}},"x2":{"field":"x2"},"y":{"field":"y1","type":"quantitative","scale":{"domain":[-0.58,6.42],"nice":false,"zero":false}},"y2":{"field":"y2"}}},
  {"data":{"name":"gates"},"transform":[{"filter":"datum.f=='TL'"}],"mark":{"type":"text","fontWeight":"bold","fontSize":13,"baseline":"middle"},"encoding":{"x":{"field":"cx","type":"quantitative","scale":{"domain":[-1.67,6.17],"nice":false,"zero":false}},"y":{"field":"ty","type":"quantitative","scale":{"domain":[-0.58,6.42],"nice":false,"zero":false}},"text":{"field":"pct"}}}
 ]},
 {"width":6,"height":1,"data":{"values":[]},"mark":"point","encoding":{}},
 {"width":115,"height":133,"view":{"stroke":"black","strokeWidth":2},"title":{"text":"Bhlhe40⁺/⁺","fontStyle":"italic","anchor":"middle","offset":-21},"layer":[
  {"data":{"values":[{}]},"mark":{"type":"rect","fill":"transparent","stroke":"#8c8c8c","strokeWidth":1},"encoding":{"x":{"datum":0,"type":"quantitative","scale":{"domain":[-0.67,5.72],"nice":false,"zero":false},"axis":{"orient":"bottom","offset":-11,"domain":false,"labels":false,"tickSize":3,"tickWidth":1,"title":null,"values":[0,0.25,0.5,0.75,1,1.25,1.5,1.75,2,2.25,2.5,2.75,3,3.25,3.5,3.75,4,4.25,4.5,4.75,5]}},"x2":{"datum":5},"y":{"datum":0,"type":"quantitative","scale":{"domain":[-0.58,6.42],"nice":false,"zero":false},"axis":{"orient":"left","offset":-12,"domain":false,"labels":false,"tickSize":3,"tickWidth":1,"title":null,"values":[0,0.25,0.5,0.75,1,1.25,1.5,1.75,2,2.25,2.5,2.75,3,3.25,3.5,3.75,4,4.25,4.5,4.75,5]}},"y2":{"datum":5}}},
  {"data":{"name":"flow"},"transform":[{"filter":"datum.f=='TR1'"}],"mark":{"type":"circle","opacity":1},"encoding":{"x":{"field":"x","type":"quantitative","scale":{"domain":[-0.67,5.72],"nice":false,"zero":false}},"y":{"field":"y","type":"quantitative","scale":{"domain":[-0.58,6.42],"nice":false,"zero":false}},"color":{"field":"r","type":"ordinal","scale":{"domain":[1,2,3,4,5,6,7,8],"range":["#3b4cc4","#e0231b","#f4e04a","#3fb7e6","#3b4cc4","#93d35a","#3fb7e6","#3b4cc4"]},"legend":null},"size":{"field":"r","type":"quantitative","scale":{"type":"pow","exponent":3,"domain":[1,8],"range":[6,600],"zero":false},"legend":null}}},
  {"data":{"name":"gates"},"transform":[{"filter":"datum.f=='TR1'"}],"mark":{"type":"rect","fill":"transparent","stroke":"black","strokeWidth":2},"encoding":{"x":{"field":"x1","type":"quantitative","scale":{"domain":[-0.67,5.72],"nice":false,"zero":false}},"x2":{"field":"x2"},"y":{"field":"y1","type":"quantitative","scale":{"domain":[-0.58,6.42],"nice":false,"zero":false}},"y2":{"field":"y2"}}},
  {"data":{"name":"gates"},"transform":[{"filter":"datum.f=='TR1'"}],"mark":{"type":"text","fontWeight":"bold","fontSize":13,"baseline":"middle"},"encoding":{"x":{"field":"cx","type":"quantitative","scale":{"domain":[-0.67,5.72],"nice":false,"zero":false}},"y":{"field":"ty","type":"quantitative","scale":{"domain":[-0.58,6.42],"nice":false,"zero":false}},"text":{"field":"pct"}}}
 ]},
 {"width":115,"height":133,"view":{"stroke":"black","strokeWidth":2},"title":{"text":"+   Bhlhe40⁺/⁺","fontStyle":"italic","anchor":"start","dx":-4,"offset":-21},"layer":[
  {"data":{"values":[{}]},"mark":{"type":"rect","fill":"transparent","stroke":"#8c8c8c","strokeWidth":1},"encoding":{"x":{"datum":0,"type":"quantitative","scale":{"domain":[-0.78,5.61],"nice":false,"zero":false},"axis":{"orient":"bottom","offset":-11,"domain":false,"labels":false,"tickSize":3,"tickWidth":1,"title":null,"values":[0,0.25,0.5,0.75,1,1.25,1.5,1.75,2,2.25,2.5,2.75,3,3.25,3.5,3.75,4,4.25,4.5,4.75,5]}},"x2":{"datum":5},"y":{"datum":0,"type":"quantitative","scale":{"domain":[-0.58,6.42],"nice":false,"zero":false},"axis":{"orient":"left","offset":-14,"domain":false,"labels":false,"tickSize":3,"tickWidth":1,"title":null,"values":[0,0.25,0.5,0.75,1,1.25,1.5,1.75,2,2.25,2.5,2.75,3,3.25,3.5,3.75,4,4.25,4.5,4.75,5]}},"y2":{"datum":5}}},
  {"data":{"name":"flow"},"transform":[{"filter":"datum.f=='TR2'"}],"mark":{"type":"circle","opacity":1},"encoding":{"x":{"field":"x","type":"quantitative","scale":{"domain":[-0.78,5.61],"nice":false,"zero":false}},"y":{"field":"y","type":"quantitative","scale":{"domain":[-0.58,6.42],"nice":false,"zero":false}},"color":{"field":"r","type":"ordinal","scale":{"domain":[1,2,3,4,5,6,7,8],"range":["#3b4cc4","#e0231b","#f4e04a","#3fb7e6","#3b4cc4","#93d35a","#3fb7e6","#3b4cc4"]},"legend":null},"size":{"field":"r","type":"quantitative","scale":{"type":"pow","exponent":3,"domain":[1,8],"range":[6,600],"zero":false},"legend":null}}},
  {"data":{"name":"gates"},"transform":[{"filter":"datum.f=='TR2'"}],"mark":{"type":"rect","fill":"transparent","stroke":"black","strokeWidth":2},"encoding":{"x":{"field":"x1","type":"quantitative","scale":{"domain":[-0.78,5.61],"nice":false,"zero":false}},"x2":{"field":"x2"},"y":{"field":"y1","type":"quantitative","scale":{"domain":[-0.58,6.42],"nice":false,"zero":false}},"y2":{"field":"y2"}}},
  {"data":{"name":"gates"},"transform":[{"filter":"datum.f=='TR2'"}],"mark":{"type":"text","fontWeight":"bold","fontSize":13,"baseline":"middle"},"encoding":{"x":{"field":"cx","type":"quantitative","scale":{"domain":[-0.78,5.61],"nice":false,"zero":false}},"y":{"field":"ty","type":"quantitative","scale":{"domain":[-0.58,6.42],"nice":false,"zero":false}},"text":{"field":"pct"}}}
 ]},
 {"width":64,"height":1,"data":{"values":[]},"mark":"point","encoding":{},"title":{"text":"C","fontSize":16,"fontWeight":"bold","anchor":"start","dx":24,"offset":29}},
 {"width":116,"height":119,"data":{"name":"C"},
  "encoding":{"x":{"field":"c","type":"nominal","scale":{"domain":["c1","c2","c3","c4"],"paddingInner":0,"paddingOuter":0.1},"axis":{"title":null,"labelAngle":-33,"labelFontStyle":"italic","labelPadding":3,"labelExpr":"datum.label=='c1'?'Bhlhe40⁺/⁺':datum.label=='c2'?'Bhlhe40⁻/⁻':datum.label=='c3'?'Bhlhe40⁺/⁺ + Bhlhe40⁺/⁺':'Bhlhe40⁺/⁺ + Bhlhe40⁻/⁻'"}},
   "y":{"field":"v","type":"quantitative","scale":{"domain":[0,50],"nice":false},"axis":{"values":[0,10,20,30,40,50],"title":"Neutrophils,% GFP⁺ (Mtb⁺)","titlePadding":4}}},
  "layer":[
   {"transform":[{"filter":"isValid(datum.pair)"}],"mark":{"type":"line","color":"black","strokeWidth":2},"encoding":{"xOffset":{"field":"side","type":"nominal","scale":{"domain":["L","C","R"],"paddingOuter":0}},"detail":{"field":"pair"}}},
   {"mark":{"type":"point","size":60,"strokeWidth":2,"opacity":1},"encoding":{"xOffset":{"field":"side","type":"nominal","scale":{"domain":["L","C","R"],"paddingOuter":0}},
    "shape":{"field":"pop","type":"nominal","scale":{"domain":["Bhlhe40⁺/⁺ (CD45.1)","Bhlhe40⁺/⁺ (CD45.2)","Bhlhe40⁻/⁻ (CD45.2)"],"range":["circle","circle","square"]},"legend":{"orient":"none","legendX":-11,"legendY":219,"title":null,"labelFontSize":12,"rowPadding":4,"symbolStrokeWidth":2,"symbolSize":70}},
    "fill":{"field":"pop","type":"nominal","scale":{"domain":["Bhlhe40⁺/⁺ (CD45.1)","Bhlhe40⁺/⁺ (CD45.2)","Bhlhe40⁻/⁻ (CD45.2)"],"range":["black","white","white"]},"legend":{"orient":"none","legendX":-11,"legendY":219,"title":null,"labelFontSize":12,"rowPadding":4,"symbolStrokeWidth":2,"symbolSize":70}},
    "stroke":{"field":"pop","type":"nominal","scale":{"domain":["Bhlhe40⁺/⁺ (CD45.1)","Bhlhe40⁺/⁺ (CD45.2)","Bhlhe40⁻/⁻ (CD45.2)"],"range":["black","black","#d7282f"]},"legend":{"orient":"none","legendX":-11,"legendY":219,"title":null,"labelFontSize":12,"rowPadding":4,"symbolStrokeWidth":2,"symbolSize":70}}}},
   {"data":{"values":[{"c":"c3","v":-6,"v2":68}]},"mark":{"type":"rule","color":"black","strokeWidth":1.5},"encoding":{"x":{"field":"c","type":"nominal","bandPosition":0},"y2":{"field":"v2"}}},
   {"data":{"values":[{"c":"c1","v":63.5,"t":"Non-\nchimeric"}]},"mark":{"type":"text","fontSize":12,"baseline":"middle","lineBreak":"\n","lineHeight":14},"encoding":{"x":{"field":"c","type":"nominal","bandPosition":0.67},"text":{"field":"t"}}},
   {"data":{"values":[{"c":"c4","v":64,"t":"Chimeric"}]},"mark":{"type":"text","fontSize":12,"baseline":"middle"},"encoding":{"x":{"field":"c","type":"nominal","bandPosition":0.15},"text":{"field":"t"}}}
  ]}
],"spacing":0,"bounds":"flush","resolve":{"scale":{"color":"independent","fill":"independent","stroke":"independent","shape":"independent","size":"independent","xOffset":"independent"},"legend":{"color":"independent","fill":"independent","stroke":"independent","shape":"independent","size":"independent"}}},
{"width":1,"height":140,"data":{"values":[]},"mark":"point","encoding":{}},
{"hconcat":[
 {"width":162,"height":1,"data":{"values":[]},"mark":"point","encoding":{}},
 {"width":64,"height":143,"layer":[
  {"data":{"values":[{}]},"mark":{"type":"rule","color":"black","strokeWidth":2},"encoding":{"x":{"datum":0.81,"type":"quantitative","scale":{"domain":[0,1]},"axis":null},"y":{"datum":0.27,"type":"quantitative","scale":{"domain":[0,1]},"axis":null},"y2":{"datum":1.0}}},
  {"data":{"values":[{}]},"mark":{"type":"text","angle":270,"fontSize":12,"baseline":"middle","align":"center","text":"Ly6G"},"encoding":{"x":{"datum":0.81,"type":"quantitative","scale":{"domain":[0,1]},"axis":null},"y":{"datum":0.105,"type":"quantitative","scale":{"domain":[0,1]},"axis":null}}}
 ]},
 {"width":141,"height":143,"view":{"stroke":"black","strokeWidth":2},"title":{"text":"Bhlhe40⁻/⁻","fontStyle":"italic","anchor":"middle","offset":-19},"layer":[
  {"data":{"values":[{}]},"mark":{"type":"rect","fill":"transparent","stroke":"#8c8c8c","strokeWidth":1},"encoding":{"x":{"datum":0,"type":"quantitative","scale":{"domain":[-1.67,6.17],"nice":false,"zero":false},"axis":{"orient":"bottom","offset":-23,"domain":false,"labels":false,"tickSize":3,"tickWidth":1,"title":null,"values":[0,0.25,0.5,0.75,1,1.25,1.5,1.75,2,2.25,2.5,2.75,3,3.25,3.5,3.75,4,4.25,4.5,4.75,5]}},"x2":{"datum":5},"y":{"datum":0,"type":"quantitative","scale":{"domain":[-1.24,6.45],"nice":false,"zero":false},"axis":{"orient":"left","offset":-30,"domain":false,"labels":false,"tickSize":3,"tickWidth":1,"title":null,"values":[0,0.25,0.5,0.75,1,1.25,1.5,1.75,2,2.25,2.5,2.75,3,3.25,3.5,3.75,4,4.25,4.5,4.75,5]}},"y2":{"datum":5}}},
  {"data":{"name":"blx"},"mark":{"type":"text","fontSize":11,"baseline":"top"},"encoding":{"x":{"field":"p","type":"quantitative","scale":{"domain":[-1.67,6.17],"nice":false,"zero":false}},"y":{"datum":-0.35,"type":"quantitative","scale":{"domain":[-1.24,6.45],"nice":false,"zero":false}},"text":{"field":"t"}}},
  {"data":{"name":"bly"},"mark":{"type":"text","fontSize":11,"align":"right","baseline":"middle"},"encoding":{"x":{"datum":-0.25,"type":"quantitative","scale":{"domain":[-1.67,6.17],"nice":false,"zero":false}},"y":{"field":"p","type":"quantitative","scale":{"domain":[-1.24,6.45],"nice":false,"zero":false}},"text":{"field":"t"}}},
  {"data":{"name":"flow"},"transform":[{"filter":"datum.f=='BL'"}],"mark":{"type":"circle","opacity":1},"encoding":{"x":{"field":"x","type":"quantitative","scale":{"domain":[-1.67,6.17],"nice":false,"zero":false}},"y":{"field":"y","type":"quantitative","scale":{"domain":[-1.24,6.45],"nice":false,"zero":false}},"color":{"field":"r","type":"ordinal","scale":{"domain":[1,2,3,4,5,6,7,8],"range":["#3b4cc4","#e0231b","#f4e04a","#3fb7e6","#3b4cc4","#93d35a","#3fb7e6","#3b4cc4"]},"legend":null},"size":{"field":"r","type":"quantitative","scale":{"type":"pow","exponent":3,"domain":[1,8],"range":[6,600],"zero":false},"legend":null}}},
  {"data":{"name":"gates"},"transform":[{"filter":"datum.f=='BL'"}],"mark":{"type":"rect","fill":"transparent","stroke":"black","strokeWidth":2},"encoding":{"x":{"field":"x1","type":"quantitative","scale":{"domain":[-1.67,6.17],"nice":false,"zero":false}},"x2":{"field":"x2"},"y":{"field":"y1","type":"quantitative","scale":{"domain":[-1.24,6.45],"nice":false,"zero":false}},"y2":{"field":"y2"}}},
  {"data":{"name":"gates"},"transform":[{"filter":"datum.f=='BL'"}],"mark":{"type":"text","fontWeight":"bold","fontSize":13,"baseline":"middle"},"encoding":{"x":{"field":"cx","type":"quantitative","scale":{"domain":[-1.67,6.17],"nice":false,"zero":false}},"y":{"field":"ty","type":"quantitative","scale":{"domain":[-1.24,6.45],"nice":false,"zero":false}},"text":{"field":"pct"}}}
 ]},
 {"width":6,"height":1,"data":{"values":[]},"mark":"point","encoding":{}},
 {"width":115,"height":143,"view":{"stroke":"black","strokeWidth":2},"title":{"text":"Bhlhe40⁺/⁺","fontStyle":"italic","anchor":"middle","offset":-19},"layer":[
  {"data":{"values":[{}]},"mark":{"type":"rect","fill":"transparent","stroke":"#8c8c8c","strokeWidth":1},"encoding":{"x":{"datum":0,"type":"quantitative","scale":{"domain":[-0.67,5.72],"nice":false,"zero":false},"axis":{"orient":"bottom","offset":-23,"domain":false,"labels":false,"tickSize":3,"tickWidth":1,"title":null,"values":[0,0.25,0.5,0.75,1,1.25,1.5,1.75,2,2.25,2.5,2.75,3,3.25,3.5,3.75,4,4.25,4.5,4.75,5]}},"x2":{"datum":5},"y":{"datum":0,"type":"quantitative","scale":{"domain":[-1.24,6.45],"nice":false,"zero":false},"axis":{"orient":"left","offset":-12,"domain":false,"labels":false,"tickSize":3,"tickWidth":1,"title":null,"values":[0,0.25,0.5,0.75,1,1.25,1.5,1.75,2,2.25,2.5,2.75,3,3.25,3.5,3.75,4,4.25,4.5,4.75,5]}},"y2":{"datum":5}}},
  {"data":{"name":"flow"},"transform":[{"filter":"datum.f=='BR1'"}],"mark":{"type":"circle","opacity":1},"encoding":{"x":{"field":"x","type":"quantitative","scale":{"domain":[-0.67,5.72],"nice":false,"zero":false}},"y":{"field":"y","type":"quantitative","scale":{"domain":[-1.24,6.45],"nice":false,"zero":false}},"color":{"field":"r","type":"ordinal","scale":{"domain":[1,2,3,4,5,6,7,8],"range":["#3b4cc4","#e0231b","#f4e04a","#3fb7e6","#3b4cc4","#93d35a","#3fb7e6","#3b4cc4"]},"legend":null},"size":{"field":"r","type":"quantitative","scale":{"type":"pow","exponent":3,"domain":[1,8],"range":[6,600],"zero":false},"legend":null}}},
  {"data":{"name":"gates"},"transform":[{"filter":"datum.f=='BR1'"}],"mark":{"type":"rect","fill":"transparent","stroke":"black","strokeWidth":2},"encoding":{"x":{"field":"x1","type":"quantitative","scale":{"domain":[-0.67,5.72],"nice":false,"zero":false}},"x2":{"field":"x2"},"y":{"field":"y1","type":"quantitative","scale":{"domain":[-1.24,6.45],"nice":false,"zero":false}},"y2":{"field":"y2"}}},
  {"data":{"name":"gates"},"transform":[{"filter":"datum.f=='BR1'"}],"mark":{"type":"text","fontWeight":"bold","fontSize":13,"baseline":"middle"},"encoding":{"x":{"field":"cx","type":"quantitative","scale":{"domain":[-0.67,5.72],"nice":false,"zero":false}},"y":{"field":"ty","type":"quantitative","scale":{"domain":[-1.24,6.45],"nice":false,"zero":false}},"text":{"field":"pct"}}}
 ]},
 {"width":115,"height":143,"view":{"stroke":"black","strokeWidth":2},"title":{"text":"+   Bhlhe40⁻/⁻","fontStyle":"italic","anchor":"start","dx":-4,"offset":-19},"layer":[
  {"data":{"values":[{}]},"mark":{"type":"rect","fill":"transparent","stroke":"#8c8c8c","strokeWidth":1},"encoding":{"x":{"datum":0,"type":"quantitative","scale":{"domain":[-0.78,5.61],"nice":false,"zero":false},"axis":{"orient":"bottom","offset":-23,"domain":false,"labels":false,"tickSize":3,"tickWidth":1,"title":null,"values":[0,0.25,0.5,0.75,1,1.25,1.5,1.75,2,2.25,2.5,2.75,3,3.25,3.5,3.75,4,4.25,4.5,4.75,5]}},"x2":{"datum":5},"y":{"datum":0,"type":"quantitative","scale":{"domain":[-1.24,6.45],"nice":false,"zero":false},"axis":{"orient":"left","offset":-14,"domain":false,"labels":false,"tickSize":3,"tickWidth":1,"title":null,"values":[0,0.25,0.5,0.75,1,1.25,1.5,1.75,2,2.25,2.5,2.75,3,3.25,3.5,3.75,4,4.25,4.5,4.75,5]}},"y2":{"datum":5}}},
  {"data":{"name":"flow"},"transform":[{"filter":"datum.f=='BR2'"}],"mark":{"type":"circle","opacity":1},"encoding":{"x":{"field":"x","type":"quantitative","scale":{"domain":[-0.78,5.61],"nice":false,"zero":false}},"y":{"field":"y","type":"quantitative","scale":{"domain":[-1.24,6.45],"nice":false,"zero":false}},"color":{"field":"r","type":"ordinal","scale":{"domain":[1,2,3,4,5,6,7,8],"range":["#3b4cc4","#e0231b","#f4e04a","#3fb7e6","#3b4cc4","#93d35a","#3fb7e6","#3b4cc4"]},"legend":null},"size":{"field":"r","type":"quantitative","scale":{"type":"pow","exponent":3,"domain":[1,8],"range":[6,600],"zero":false},"legend":null}}},
  {"data":{"name":"gates"},"transform":[{"filter":"datum.f=='BR2'"}],"mark":{"type":"rect","fill":"transparent","stroke":"black","strokeWidth":2},"encoding":{"x":{"field":"x1","type":"quantitative","scale":{"domain":[-0.78,5.61],"nice":false,"zero":false}},"x2":{"field":"x2"},"y":{"field":"y1","type":"quantitative","scale":{"domain":[-1.24,6.45],"nice":false,"zero":false}},"y2":{"field":"y2"}}},
  {"data":{"name":"gates"},"transform":[{"filter":"datum.f=='BR2'"}],"mark":{"type":"text","fontWeight":"bold","fontSize":13,"baseline":"middle"},"encoding":{"x":{"field":"cx","type":"quantitative","scale":{"domain":[-0.78,5.61],"nice":false,"zero":false}},"y":{"field":"ty","type":"quantitative","scale":{"domain":[-1.24,6.45],"nice":false,"zero":false}},"text":{"field":"pct"}}}
 ]}
],"spacing":0,"bounds":"flush","resolve":{"scale":{"color":"independent","fill":"independent","stroke":"independent","shape":"independent","size":"independent","xOffset":"independent"},"legend":{"color":"independent","fill":"independent","stroke":"independent","shape":"independent","size":"independent"}}},
{"width":1,"height":150,"data":{"values":[]},"mark":"point","encoding":{}},
{"hconcat":[
 {"width":226,"height":1,"data":{"values":[]},"mark":"point","encoding":{}},
 {"width":377,"height":16,"layer":[
  {"data":{"values":[{}]},"mark":{"type":"rule","color":"black","strokeWidth":2},"encoding":{"x":{"datum":0.165,"type":"quantitative","scale":{"domain":[0,1]},"axis":null},"x2":{"datum":0.96},"y":{"datum":0.5,"type":"quantitative","scale":{"domain":[0,1]},"axis":null}}},
  {"data":{"values":[{}]},"mark":{"type":"point","shape":"triangle-right","filled":true,"color":"black","size":90,"opacity":1},"encoding":{"x":{"datum":0.975,"type":"quantitative","scale":{"domain":[0,1]},"axis":null},"y":{"datum":0.5,"type":"quantitative","scale":{"domain":[0,1]},"axis":null}}},
  {"data":{"values":[{}]},"mark":{"type":"text","fontSize":12,"baseline":"middle","align":"left","text":"GFP (Mtb)"},"encoding":{"x":{"datum":0.003,"type":"quantitative","scale":{"domain":[0,1]},"axis":null},"y":{"datum":0.5,"type":"quantitative","scale":{"domain":[0,1]},"axis":null}}}
 ]}
],"spacing":0,"bounds":"flush","resolve":{"scale":{"color":"independent","fill":"independent","stroke":"independent","shape":"independent","size":"independent","xOffset":"independent"},"legend":{"color":"independent","fill":"independent","stroke":"independent","shape":"independent","size":"independent"}}},
{"width":1,"height":76,"data":{"values":[]},"mark":"point","encoding":{}},
{"hconcat":[
 {"width":15,"height":1,"data":{"values":[]},"mark":"point","encoding":{},"title":{"text":"D","fontSize":16,"fontWeight":"bold","anchor":"start","dx":0,"offset":-7}},
 {"width":60,"height":116,"title":{"text":"Csf3","fontStyle":"italic","offset":8},"data":{"name":"pts"},"transform":[{"filter":"datum.p=='Csf3'"}],
  "encoding":{"x":{"field":"g","type":"nominal","scale":{"domain":["WT","KO"],"paddingInner":0,"paddingOuter":0.2},"axis":{"labels":false,"ticks":false,"title":null}},"y":{"field":"v","type":"quantitative","scale":{"domain":[0,40],"nice":false},"axis":{"values":[0,10,20,30,40],"title":"Expression (relative)","titlePadding":13}}},
  "layer":[
   {"mark":{"type":"point","filled":true,"size":60,"opacity":1},"encoding":{"xOffset":{"field":"m","type":"nominal","scale":{"paddingOuter":1.5}},"color":{"field":"g","type":"nominal","scale":{"domain":["WT","KO"],"range":["black","#d7282f"]},"legend":null},"shape":{"field":"g","type":"nominal","scale":{"domain":["WT","KO"],"range":["circle","square"]},"legend":null}}},
   {"mark":{"type":"errorbar","extent":"stderr","color":"black","thickness":2,"ticks":{"size":10,"thickness":2,"color":"black"}},"encoding":{}},
   {"transform":[{"aggregate":[{"op":"mean","field":"v","as":"v"}],"groupby":["g"]}],"mark":{"type":"tick","color":"black","thickness":2,"size":20},"encoding":{}},
   {"data":{"name":"sig"},"transform":[{"filter":"datum.p=='Csf3'"}],"mark":{"type":"rule","color":"black","strokeWidth":2},"encoding":{"x2":{"field":"g2"}}},
   {"data":{"name":"sig"},"transform":[{"filter":"datum.p=='Csf3'"}],"mark":{"type":"text","fontSize":13,"baseline":"alphabetic"},"encoding":{"x":{"field":"g","type":"nominal","bandPosition":1,"scale":{"domain":["WT","KO"],"paddingInner":0,"paddingOuter":0.2},"axis":{"labels":false,"ticks":false,"title":null}},"text":{"field":"s"}}}
  ]},
 {"width":58,"height":116,"title":{"text":"Ccl3","fontStyle":"italic","offset":8},"data":{"name":"pts"},"transform":[{"filter":"datum.p=='Ccl3'"}],
  "encoding":{"x":{"field":"g","type":"nominal","scale":{"domain":["WT","KO"],"paddingInner":0,"paddingOuter":0.2},"axis":{"labels":false,"ticks":false,"title":null}},"y":{"field":"v","type":"quantitative","scale":{"domain":[0,40],"nice":false},"axis":{"values":[0,10,20,30,40],"title":null}}},
  "layer":[
   {"mark":{"type":"point","filled":true,"size":60,"opacity":1},"encoding":{"xOffset":{"field":"m","type":"nominal","scale":{"paddingOuter":1.5}},"color":{"field":"g","type":"nominal","scale":{"domain":["WT","KO"],"range":["black","#d7282f"]},"legend":null},"shape":{"field":"g","type":"nominal","scale":{"domain":["WT","KO"],"range":["circle","square"]},"legend":null}}},
   {"mark":{"type":"errorbar","extent":"stderr","color":"black","thickness":2,"ticks":{"size":10,"thickness":2,"color":"black"}},"encoding":{}},
   {"transform":[{"aggregate":[{"op":"mean","field":"v","as":"v"}],"groupby":["g"]}],"mark":{"type":"tick","color":"black","thickness":2,"size":20},"encoding":{}},
   {"data":{"name":"sig"},"transform":[{"filter":"datum.p=='Ccl3'"}],"mark":{"type":"rule","color":"black","strokeWidth":2},"encoding":{"x2":{"field":"g2"}}},
   {"data":{"name":"sig"},"transform":[{"filter":"datum.p=='Ccl3'"}],"mark":{"type":"text","fontSize":13,"baseline":"alphabetic"},"encoding":{"x":{"field":"g","type":"nominal","bandPosition":1,"scale":{"domain":["WT","KO"],"paddingInner":0,"paddingOuter":0.2},"axis":{"labels":false,"ticks":false,"title":null}},"text":{"field":"s"}}}
  ]},
 {"width":66,"height":116,"title":{"text":"Ccl4","fontStyle":"italic","offset":8},"data":{"name":"pts"},"transform":[{"filter":"datum.p=='Ccl4'"}],
  "encoding":{"x":{"field":"g","type":"nominal","scale":{"domain":["WT","KO"],"paddingInner":0,"paddingOuter":0.2},"axis":{"labels":false,"ticks":false,"title":null}},"y":{"field":"v","type":"quantitative","scale":{"domain":[0,40],"nice":false},"axis":{"values":[0,10,20,30,40],"title":null}}},
  "layer":[
   {"mark":{"type":"point","filled":true,"size":60,"opacity":1},"encoding":{"xOffset":{"field":"m","type":"nominal","scale":{"paddingOuter":1.5}},"color":{"field":"g","type":"nominal","scale":{"domain":["WT","KO"],"range":["black","#d7282f"]},"legend":null},"shape":{"field":"g","type":"nominal","scale":{"domain":["WT","KO"],"range":["circle","square"]},"legend":null}}},
   {"mark":{"type":"errorbar","extent":"stderr","color":"black","thickness":2,"ticks":{"size":10,"thickness":2,"color":"black"}},"encoding":{}},
   {"transform":[{"aggregate":[{"op":"mean","field":"v","as":"v"}],"groupby":["g"]}],"mark":{"type":"tick","color":"black","thickness":2,"size":20},"encoding":{}},
   {"data":{"name":"sig"},"transform":[{"filter":"datum.p=='Ccl4'"}],"mark":{"type":"rule","color":"black","strokeWidth":2},"encoding":{"x2":{"field":"g2"}}},
   {"data":{"name":"sig"},"transform":[{"filter":"datum.p=='Ccl4'"}],"mark":{"type":"text","fontSize":13,"baseline":"alphabetic"},"encoding":{"x":{"field":"g","type":"nominal","bandPosition":1,"scale":{"domain":["WT","KO"],"paddingInner":0,"paddingOuter":0.2},"axis":{"labels":false,"ticks":false,"title":null}},"text":{"field":"s"}}}
  ]},
 {"width":69,"height":116,"title":{"text":"Il10","fontStyle":"italic","offset":8},"data":{"name":"pts"},"transform":[{"filter":"datum.p=='Il10'"}],
  "encoding":{"x":{"field":"g","type":"nominal","scale":{"domain":["WT","KO"],"paddingInner":0,"paddingOuter":0.2},"axis":{"labels":false,"ticks":false,"title":null}},"y":{"field":"v","type":"quantitative","scale":{"domain":[0,10],"nice":false},"axis":{"values":[0,2,4,6,8,10],"title":null}}},
  "layer":[
   {"mark":{"type":"point","filled":true,"size":60,"opacity":1},"encoding":{"xOffset":{"field":"m","type":"nominal","scale":{"paddingOuter":1.5}},"color":{"field":"g","type":"nominal","scale":{"domain":["WT","KO"],"range":["black","#d7282f"]},"legend":null},"shape":{"field":"g","type":"nominal","scale":{"domain":["WT","KO"],"range":["circle","square"]},"legend":null}}},
   {"mark":{"type":"errorbar","extent":"stderr","color":"black","thickness":2,"ticks":{"size":10,"thickness":2,"color":"black"}},"encoding":{}},
   {"transform":[{"aggregate":[{"op":"mean","field":"v","as":"v"}],"groupby":["g"]}],"mark":{"type":"tick","color":"black","thickness":2,"size":20},"encoding":{}},
   {"data":{"name":"sig"},"transform":[{"filter":"datum.p=='Il10'"}],"mark":{"type":"rule","color":"black","strokeWidth":2},"encoding":{"x2":{"field":"g2"}}},
   {"data":{"name":"sig"},"transform":[{"filter":"datum.p=='Il10'"}],"mark":{"type":"text","fontSize":13,"baseline":"alphabetic"},"encoding":{"x":{"field":"g","type":"nominal","bandPosition":1,"scale":{"domain":["WT","KO"],"paddingInner":0,"paddingOuter":0.2},"axis":{"labels":false,"ticks":false,"title":null}},"text":{"field":"s"}}}
  ]},
 {"width":61,"height":116,"title":{"text":"Il12b","fontStyle":"italic","offset":8},"data":{"name":"pts"},"transform":[{"filter":"datum.p=='Il12b'"}],
  "encoding":{"x":{"field":"g","type":"nominal","scale":{"domain":["WT","KO"],"paddingInner":0,"paddingOuter":0.2},"axis":{"labels":false,"ticks":false,"title":null}},"y":{"field":"v","type":"quantitative","scale":{"domain":[0,1.5],"nice":false},"axis":{"values":[0,0.5,1,1.5],"labelExpr":"datum.value==0?'0':format(datum.value,'.1f')","title":null}}},
  "layer":[
   {"mark":{"type":"point","filled":true,"size":60,"opacity":1},"encoding":{"xOffset":{"field":"m","type":"nominal","scale":{"paddingOuter":1.5}},"color":{"field":"g","type":"nominal","scale":{"domain":["WT","KO"],"range":["black","#d7282f"]},"legend":null},"shape":{"field":"g","type":"nominal","scale":{"domain":["WT","KO"],"range":["circle","square"]},"legend":null}}},
   {"mark":{"type":"errorbar","extent":"stderr","color":"black","thickness":2,"ticks":{"size":10,"thickness":2,"color":"black"}},"encoding":{}},
   {"transform":[{"aggregate":[{"op":"mean","field":"v","as":"v"}],"groupby":["g"]}],"mark":{"type":"tick","color":"black","thickness":2,"size":20},"encoding":{}},
   {"data":{"name":"sig"},"transform":[{"filter":"datum.p=='Il12b'"}],"mark":{"type":"rule","color":"black","strokeWidth":2},"encoding":{"x2":{"field":"g2"}}},
   {"data":{"name":"sig"},"transform":[{"filter":"datum.p=='Il12b'"}],"mark":{"type":"text","fontSize":13,"baseline":"alphabetic"},"encoding":{"x":{"field":"g","type":"nominal","bandPosition":1,"scale":{"domain":["WT","KO"],"paddingInner":0,"paddingOuter":0.2},"axis":{"labels":false,"ticks":false,"title":null}},"text":{"field":"s"}}}
  ]},
 {"width":60,"height":116,"title":{"text":"Ifng","fontStyle":"italic","offset":8},"data":{"name":"pts"},"transform":[{"filter":"datum.p=='Ifng'"}],
  "encoding":{"x":{"field":"g","type":"nominal","scale":{"domain":["WT","KO"],"paddingInner":0,"paddingOuter":0.2},"axis":{"labels":false,"ticks":false,"title":null}},"y":{"field":"v","type":"quantitative","scale":{"domain":[0,1.5],"nice":false},"axis":{"values":[0,0.5,1,1.5],"labelExpr":"datum.value==0?'0':format(datum.value,'.1f')","title":null}}},
  "layer":[
   {"mark":{"type":"point","filled":true,"size":60,"opacity":1},"encoding":{"xOffset":{"field":"m","type":"nominal","scale":{"paddingOuter":1.5}},"color":{"field":"g","type":"nominal","scale":{"domain":["WT","KO"],"range":["black","#d7282f"]},"legend":{"orient":"none","legendX":78,"legendY":22,"title":null,"labelExpr":"datum.label=='WT'?'Bhlhe40⁺/⁺':'Bhlhe40⁻/⁻'","labelFontStyle":"italic","labelFontSize":12,"rowPadding":3,"symbolSize":60}},"shape":{"field":"g","type":"nominal","scale":{"domain":["WT","KO"],"range":["circle","square"]},"legend":{"orient":"none","legendX":78,"legendY":22,"title":null,"labelExpr":"datum.label=='WT'?'Bhlhe40⁺/⁺':'Bhlhe40⁻/⁻'","labelFontStyle":"italic","labelFontSize":12,"rowPadding":3,"symbolSize":60}}}},
   {"mark":{"type":"errorbar","extent":"stderr","color":"black","thickness":2,"ticks":{"size":10,"thickness":2,"color":"black"}},"encoding":{}},
   {"transform":[{"aggregate":[{"op":"mean","field":"v","as":"v"}],"groupby":["g"]}],"mark":{"type":"tick","color":"black","thickness":2,"size":20},"encoding":{}},
   {"data":{"name":"sig"},"transform":[{"filter":"datum.p=='Ifng'"}],"mark":{"type":"rule","color":"black","strokeWidth":2},"encoding":{"x2":{"field":"g2"}}},
   {"data":{"name":"sig"},"transform":[{"filter":"datum.p=='Ifng'"}],"mark":{"type":"text","fontSize":13,"baseline":"alphabetic"},"encoding":{"x":{"field":"g","type":"nominal","bandPosition":1,"scale":{"domain":["WT","KO"],"paddingInner":0,"paddingOuter":0.2},"axis":{"labels":false,"ticks":false,"title":null}},"text":{"field":"s"}}}
  ]}
],"spacing":34,"bounds":"flush","resolve":{"scale":{"color":"independent","fill":"independent","stroke":"independent","shape":"independent","size":"independent","xOffset":"independent"},"legend":{"color":"independent","fill":"independent","stroke":"independent","shape":"independent","size":"independent"}}},
{"width":1,"height":183,"data":{"values":[]},"mark":"point","encoding":{}},
{"hconcat":[
 {"width":15,"height":1,"data":{"values":[]},"mark":"point","encoding":{},"title":{"text":"E","fontSize":16,"fontWeight":"bold","anchor":"start","dx":0,"offset":25}},
 {"width":62,"height":116,"title":{"text":"Neutrophils","offset":2},"data":{"name":"pts"},"transform":[{"filter":"datum.p=='Neut'"}],
  "encoding":{"x":{"field":"g","type":"nominal","scale":{"domain":["WT","KO"],"paddingInner":0,"paddingOuter":0.2},"axis":{"labels":false,"ticks":false,"title":null}},"y":{"field":"v","type":"quantitative","scale":{"domain":[0,10],"nice":false},"axis":{"values":[0,2,4,6,8,10],"title":"% Thy1.1⁺ (IL-10⁺)","titlePadding":14}}},
  "layer":[
   {"mark":{"type":"point","filled":true,"size":65,"opacity":1},"encoding":{"xOffset":{"field":"m","type":"nominal","scale":{"paddingOuter":1.5}},"color":{"field":"g","type":"nominal","scale":{"domain":["WT","KO"],"range":["black","#d7282f"]},"legend":null},"shape":{"field":"g","type":"nominal","scale":{"domain":["WT","KO"],"range":["circle","square"]},"legend":null}}},
   {"mark":{"type":"errorbar","extent":"stderr","color":"black","thickness":2,"ticks":{"size":10,"thickness":2,"color":"black"}},"encoding":{}},
   {"transform":[{"aggregate":[{"op":"mean","field":"v","as":"v"}],"groupby":["g"]}],"mark":{"type":"tick","color":"black","thickness":2,"size":20},"encoding":{}},
   {"data":{"name":"sig"},"transform":[{"filter":"datum.p=='Neut'"}],"mark":{"type":"rule","color":"black","strokeWidth":2},"encoding":{"x2":{"field":"g2"}}},
   {"data":{"name":"sig"},"transform":[{"filter":"datum.p=='Neut'"}],"mark":{"type":"text","fontSize":13,"baseline":"alphabetic"},"encoding":{"x":{"field":"g","type":"nominal","bandPosition":1,"scale":{"domain":["WT","KO"],"paddingInner":0,"paddingOuter":0.2},"axis":{"labels":false,"ticks":false,"title":null}},"text":{"field":"s"}}}
  ]},
 {"width":62,"height":116,"title":{"text":"Inf. Mono.","offset":2},"data":{"name":"pts"},"transform":[{"filter":"datum.p=='Mono'"}],
  "encoding":{"x":{"field":"g","type":"nominal","scale":{"domain":["WT","KO"],"paddingInner":0,"paddingOuter":0.2},"axis":{"labels":false,"ticks":false,"title":null}},"y":{"field":"v","type":"quantitative","scale":{"domain":[0,30],"nice":false},"axis":{"values":[0,10,20,30],"title":null}}},
  "layer":[
   {"mark":{"type":"point","filled":true,"size":65,"opacity":1},"encoding":{"xOffset":{"field":"m","type":"nominal","scale":{"paddingOuter":1.5}},"color":{"field":"g","type":"nominal","scale":{"domain":["WT","KO"],"range":["black","#d7282f"]},"legend":null},"shape":{"field":"g","type":"nominal","scale":{"domain":["WT","KO"],"range":["circle","square"]},"legend":null}}},
   {"mark":{"type":"errorbar","extent":"stderr","color":"black","thickness":2,"ticks":{"size":10,"thickness":2,"color":"black"}},"encoding":{}},
   {"transform":[{"aggregate":[{"op":"mean","field":"v","as":"v"}],"groupby":["g"]}],"mark":{"type":"tick","color":"black","thickness":2,"size":20},"encoding":{}},
   {"data":{"name":"sig"},"transform":[{"filter":"datum.p=='Mono'"}],"mark":{"type":"rule","color":"black","strokeWidth":2},"encoding":{"x2":{"field":"g2"}}},
   {"data":{"name":"sig"},"transform":[{"filter":"datum.p=='Mono'"}],"mark":{"type":"text","fontSize":13,"baseline":"alphabetic"},"encoding":{"x":{"field":"g","type":"nominal","bandPosition":1,"scale":{"domain":["WT","KO"],"paddingInner":0,"paddingOuter":0.2},"axis":{"labels":false,"ticks":false,"title":null}},"text":{"field":"s"}}}
  ]},
 {"width":62,"height":116,"title":{"text":"moDCs","offset":2},"data":{"name":"pts"},"transform":[{"filter":"datum.p=='EmoDC'"}],
  "encoding":{"x":{"field":"g","type":"nominal","scale":{"domain":["WT","KO"],"paddingInner":0,"paddingOuter":0.2},"axis":{"labels":false,"ticks":false,"title":null}},"y":{"field":"v","type":"quantitative","scale":{"domain":[0,60],"nice":false},"axis":{"values":[0,20,40,60],"title":null}}},
  "layer":[
   {"mark":{"type":"point","filled":true,"size":65,"opacity":1},"encoding":{"xOffset":{"field":"m","type":"nominal","scale":{"paddingOuter":1.5}},"color":{"field":"g","type":"nominal","scale":{"domain":["WT","KO"],"range":["black","#d7282f"]},"legend":null},"shape":{"field":"g","type":"nominal","scale":{"domain":["WT","KO"],"range":["circle","square"]},"legend":null}}},
   {"mark":{"type":"errorbar","extent":"stderr","color":"black","thickness":2,"ticks":{"size":10,"thickness":2,"color":"black"}},"encoding":{}},
   {"transform":[{"aggregate":[{"op":"mean","field":"v","as":"v"}],"groupby":["g"]}],"mark":{"type":"tick","color":"black","thickness":2,"size":20},"encoding":{}},
   {"data":{"name":"sig"},"transform":[{"filter":"datum.p=='EmoDC'"}],"mark":{"type":"rule","color":"black","strokeWidth":2},"encoding":{"x2":{"field":"g2"}}},
   {"data":{"name":"sig"},"transform":[{"filter":"datum.p=='EmoDC'"}],"mark":{"type":"text","fontSize":13,"baseline":"alphabetic"},"encoding":{"x":{"field":"g","type":"nominal","bandPosition":1,"scale":{"domain":["WT","KO"],"paddingInner":0,"paddingOuter":0.2},"axis":{"labels":false,"ticks":false,"title":null}},"text":{"field":"s"}}}
  ]},
 {"width":62,"height":116,"title":{"text":["CD11b⁺","DCs"],"offset":2},"data":{"name":"pts"},"transform":[{"filter":"datum.p=='DC'"}],
  "encoding":{"x":{"field":"g","type":"nominal","scale":{"domain":["WT","KO"],"paddingInner":0,"paddingOuter":0.2},"axis":{"labels":false,"ticks":false,"title":null}},"y":{"field":"v","type":"quantitative","scale":{"domain":[0,20],"nice":false},"axis":{"values":[0,5,10,15,20],"title":null}}},
  "layer":[
   {"mark":{"type":"point","filled":true,"size":65,"opacity":1},"encoding":{"xOffset":{"field":"m","type":"nominal","scale":{"paddingOuter":1.5}},"color":{"field":"g","type":"nominal","scale":{"domain":["WT","KO"],"range":["black","#d7282f"]},"legend":null},"shape":{"field":"g","type":"nominal","scale":{"domain":["WT","KO"],"range":["circle","square"]},"legend":null}}},
   {"mark":{"type":"errorbar","extent":"stderr","color":"black","thickness":2,"ticks":{"size":10,"thickness":2,"color":"black"}},"encoding":{}},
   {"transform":[{"aggregate":[{"op":"mean","field":"v","as":"v"}],"groupby":["g"]}],"mark":{"type":"tick","color":"black","thickness":2,"size":20},"encoding":{}},
   {"data":{"name":"sig"},"transform":[{"filter":"datum.p=='DC'"}],"mark":{"type":"rule","color":"black","strokeWidth":2},"encoding":{"x2":{"field":"g2"}}},
   {"data":{"name":"sig"},"transform":[{"filter":"datum.p=='DC'"}],"mark":{"type":"text","fontSize":13,"baseline":"alphabetic"},"encoding":{"x":{"field":"g","type":"nominal","bandPosition":1,"scale":{"domain":["WT","KO"],"paddingInner":0,"paddingOuter":0.2},"axis":{"labels":false,"ticks":false,"title":null}},"text":{"field":"s"}}}
  ]},
 {"width":62,"height":116,"title":{"text":"B cells","offset":2},"data":{"name":"pts"},"transform":[{"filter":"datum.p=='EB'"}],
  "encoding":{"x":{"field":"g","type":"nominal","scale":{"domain":["WT","KO"],"paddingInner":0,"paddingOuter":0.2},"axis":{"labels":false,"ticks":false,"title":null}},"y":{"field":"v","type":"quantitative","scale":{"domain":[0,10],"nice":false},"axis":{"values":[0,2,4,6,8,10],"title":null}}},
  "layer":[
   {"mark":{"type":"point","filled":true,"size":65,"opacity":1},"encoding":{"xOffset":{"field":"m","type":"nominal","scale":{"paddingOuter":1.5}},"color":{"field":"g","type":"nominal","scale":{"domain":["WT","KO"],"range":["black","#d7282f"]},"legend":null},"shape":{"field":"g","type":"nominal","scale":{"domain":["WT","KO"],"range":["circle","square"]},"legend":null}}},
   {"mark":{"type":"errorbar","extent":"stderr","color":"black","thickness":2,"ticks":{"size":10,"thickness":2,"color":"black"}},"encoding":{}},
   {"transform":[{"aggregate":[{"op":"mean","field":"v","as":"v"}],"groupby":["g"]}],"mark":{"type":"tick","color":"black","thickness":2,"size":20},"encoding":{}},
   {"data":{"name":"sig"},"transform":[{"filter":"datum.p=='EB'"}],"mark":{"type":"rule","color":"black","strokeWidth":2},"encoding":{"x2":{"field":"g2"}}},
   {"data":{"name":"sig"},"transform":[{"filter":"datum.p=='EB'"}],"mark":{"type":"text","fontSize":13,"baseline":"alphabetic"},"encoding":{"x":{"field":"g","type":"nominal","bandPosition":1,"scale":{"domain":["WT","KO"],"paddingInner":0,"paddingOuter":0.2},"axis":{"labels":false,"ticks":false,"title":null}},"text":{"field":"s"}}}
  ]},
 {"width":62,"height":116,"title":{"text":["CD4⁺","T cells"],"offset":2},"data":{"name":"pts"},"transform":[{"filter":"datum.p=='CD4'"}],
  "encoding":{"x":{"field":"g","type":"nominal","scale":{"domain":["WT","KO"],"paddingInner":0,"paddingOuter":0.2},"axis":{"labels":false,"ticks":false,"title":null}},"y":{"field":"v","type":"quantitative","scale":{"domain":[0,40],"nice":false},"axis":{"values":[0,10,20,30,40],"title":null}}},
  "layer":[
   {"mark":{"type":"point","filled":true,"size":65,"opacity":1},"encoding":{"xOffset":{"field":"m","type":"nominal","scale":{"paddingOuter":1.5}},"color":{"field":"g","type":"nominal","scale":{"domain":["WT","KO"],"range":["black","#d7282f"]},"legend":null},"shape":{"field":"g","type":"nominal","scale":{"domain":["WT","KO"],"range":["circle","square"]},"legend":null}}},
   {"mark":{"type":"errorbar","extent":"stderr","color":"black","thickness":2,"ticks":{"size":10,"thickness":2,"color":"black"}},"encoding":{}},
   {"transform":[{"aggregate":[{"op":"mean","field":"v","as":"v"}],"groupby":["g"]}],"mark":{"type":"tick","color":"black","thickness":2,"size":20},"encoding":{}},
   {"data":{"name":"sig"},"transform":[{"filter":"datum.p=='CD4'"}],"mark":{"type":"rule","color":"black","strokeWidth":2},"encoding":{"x2":{"field":"g2"}}},
   {"data":{"name":"sig"},"transform":[{"filter":"datum.p=='CD4'"}],"mark":{"type":"text","fontSize":13,"baseline":"alphabetic"},"encoding":{"x":{"field":"g","type":"nominal","bandPosition":1,"scale":{"domain":["WT","KO"],"paddingInner":0,"paddingOuter":0.2},"axis":{"labels":false,"ticks":false,"title":null}},"text":{"field":"s"}}}
  ]},
 {"width":62,"height":116,"title":{"text":["CD8⁺","T cells"],"offset":2},"data":{"name":"pts"},"transform":[{"filter":"datum.p=='CD8'"}],
  "encoding":{"x":{"field":"g","type":"nominal","scale":{"domain":["WT","KO"],"paddingInner":0,"paddingOuter":0.2},"axis":{"labels":false,"ticks":false,"title":null}},"y":{"field":"v","type":"quantitative","scale":{"domain":[0,20],"nice":false},"axis":{"values":[0,5,10,15,20],"title":null}}},
  "layer":[
   {"mark":{"type":"point","filled":true,"size":65,"opacity":1},"encoding":{"xOffset":{"field":"m","type":"nominal","scale":{"paddingOuter":1.5}},"color":{"field":"g","type":"nominal","scale":{"domain":["WT","KO"],"range":["black","#d7282f"]},"legend":{"orient":"none","legendX":76,"legendY":22,"title":null,"labelExpr":"datum.label=='WT'?'Bhlhe40⁺/⁺':'Bhlhe40⁻/⁻'","labelFontStyle":"italic","labelFontSize":12,"rowPadding":3,"symbolSize":60}},"shape":{"field":"g","type":"nominal","scale":{"domain":["WT","KO"],"range":["circle","square"]},"legend":{"orient":"none","legendX":76,"legendY":22,"title":null,"labelExpr":"datum.label=='WT'?'Bhlhe40⁺/⁺':'Bhlhe40⁻/⁻'","labelFontStyle":"italic","labelFontSize":12,"rowPadding":3,"symbolSize":60}}}},
   {"mark":{"type":"errorbar","extent":"stderr","color":"black","thickness":2,"ticks":{"size":10,"thickness":2,"color":"black"}},"encoding":{}},
   {"transform":[{"aggregate":[{"op":"mean","field":"v","as":"v"}],"groupby":["g"]}],"mark":{"type":"tick","color":"black","thickness":2,"size":20},"encoding":{}},
   {"data":{"name":"sig"},"transform":[{"filter":"datum.p=='CD8'"}],"mark":{"type":"rule","color":"black","strokeWidth":2},"encoding":{"x2":{"field":"g2"}}},
   {"data":{"name":"sig"},"transform":[{"filter":"datum.p=='CD8'"}],"mark":{"type":"text","fontSize":13,"baseline":"alphabetic"},"encoding":{"x":{"field":"g","type":"nominal","bandPosition":1,"scale":{"domain":["WT","KO"],"paddingInner":0,"paddingOuter":0.2},"axis":{"labels":false,"ticks":false,"title":null}},"text":{"field":"s"}}}
  ]}
],"spacing":33,"bounds":"flush","resolve":{"scale":{"color":"independent","fill":"independent","stroke":"independent","shape":"independent","size":"independent","xOffset":"independent"},"legend":{"color":"independent","fill":"independent","stroke":"independent","shape":"independent","size":"independent"}}},
{"width":1,"height":195,"data":{"values":[]},"mark":"point","encoding":{}},
{"hconcat":[
 {"width":65,"height":1,"data":{"values":[]},"mark":"point","encoding":{},"title":{"text":"F","fontSize":16,"fontWeight":"bold","anchor":"start","dx":1,"offset":46}},
 {"width":59,"height":117,"title":{"text":"Alv. Mac.","offset":15},"data":{"name":"pts"},"transform":[{"filter":"datum.p=='Alv'"}],
  "encoding":{"x":{"field":"g","type":"nominal","scale":{"domain":["WT","KO"],"paddingInner":0,"paddingOuter":0.2},"axis":{"labels":false,"ticks":false,"title":null}},"y":{"field":"v","type":"quantitative","scale":{"domain":[0,40000],"nice":false},"axis":{"values":[0,10000,20000,30000,40000],"format":"d","title":"Thy1.1 (IL-10) MFI","titlePadding":11}}},
  "layer":[
   {"mark":{"type":"point","filled":true,"size":65,"opacity":1},"encoding":{"xOffset":{"field":"m","type":"nominal","scale":{"paddingOuter":1.5}},"color":{"field":"g","type":"nominal","scale":{"domain":["WT","KO"],"range":["black","#d7282f"]},"legend":{"orient":"none","legendX":143,"legendY":141,"title":null,"labelExpr":"datum.label=='WT'?'Bhlhe40⁺/⁺':'Bhlhe40⁻/⁻'","labelFontStyle":"italic","labelFontSize":12,"rowPadding":1,"symbolSize":60}},"shape":{"field":"g","type":"nominal","scale":{"domain":["WT","KO"],"range":["circle","square"]},"legend":{"orient":"none","legendX":143,"legendY":141,"title":null,"labelExpr":"datum.label=='WT'?'Bhlhe40⁺/⁺':'Bhlhe40⁻/⁻'","labelFontStyle":"italic","labelFontSize":12,"rowPadding":1,"symbolSize":60}}}},
   {"mark":{"type":"errorbar","extent":"stderr","color":"black","thickness":2,"ticks":{"size":10,"thickness":2,"color":"black"}},"encoding":{}},
   {"transform":[{"aggregate":[{"op":"mean","field":"v","as":"v"}],"groupby":["g"]}],"mark":{"type":"tick","color":"black","thickness":2,"size":20},"encoding":{}},
   {"data":{"name":"sig"},"transform":[{"filter":"datum.p=='Alv'"}],"mark":{"type":"rule","color":"black","strokeWidth":2},"encoding":{"x2":{"field":"g2"}}},
   {"data":{"name":"sig"},"transform":[{"filter":"datum.p=='Alv'"}],"mark":{"type":"text","fontSize":13,"baseline":"alphabetic"},"encoding":{"x":{"field":"g","type":"nominal","bandPosition":1,"scale":{"domain":["WT","KO"],"paddingInner":0,"paddingOuter":0.2},"axis":{"labels":false,"ticks":false,"title":null}},"text":{"field":"s"}}}
  ]},
 {"width":44,"height":1,"data":{"values":[]},"mark":"point","encoding":{}},
 {"width":58,"height":117,"title":{"text":"CD11b⁺ Mac.","offset":15},"data":{"name":"pts"},"transform":[{"filter":"datum.p=='Mac'"}],
  "encoding":{"x":{"field":"g","type":"nominal","scale":{"domain":["WT","KO"],"paddingInner":0,"paddingOuter":0.2},"axis":{"labels":false,"ticks":false,"title":null}},"y":{"field":"v","type":"quantitative","scale":{"domain":[0,8000],"nice":false},"axis":{"values":[0,2000,4000,6000,8000],"format":"d","title":null}}},
  "layer":[
   {"mark":{"type":"point","filled":true,"size":65,"opacity":1},"encoding":{"xOffset":{"field":"m","type":"nominal","scale":{"paddingOuter":1.5}},"color":{"field":"g","type":"nominal","scale":{"domain":["WT","KO"],"range":["black","#d7282f"]},"legend":null},"shape":{"field":"g","type":"nominal","scale":{"domain":["WT","KO"],"range":["circle","square"]},"legend":null}}},
   {"mark":{"type":"errorbar","extent":"stderr","color":"black","thickness":2,"ticks":{"size":10,"thickness":2,"color":"black"}},"encoding":{}},
   {"transform":[{"aggregate":[{"op":"mean","field":"v","as":"v"}],"groupby":["g"]}],"mark":{"type":"tick","color":"black","thickness":2,"size":20},"encoding":{}},
   {"data":{"name":"sig"},"transform":[{"filter":"datum.p=='Mac'"}],"mark":{"type":"rule","color":"black","strokeWidth":2},"encoding":{"x2":{"field":"g2"}}},
   {"data":{"name":"sig"},"transform":[{"filter":"datum.p=='Mac'"}],"mark":{"type":"text","fontSize":13,"baseline":"alphabetic"},"encoding":{"x":{"field":"g","type":"nominal","bandPosition":1,"scale":{"domain":["WT","KO"],"paddingInner":0,"paddingOuter":0.2},"axis":{"labels":false,"ticks":false,"title":null}},"text":{"field":"s"}}}
  ]},
 {"width":44,"height":1,"data":{"values":[]},"mark":"point","encoding":{}},
 {"width":58,"height":117,"title":{"text":"moDCs","offset":15},"data":{"name":"pts"},"transform":[{"filter":"datum.p=='FmoDC'"}],
  "encoding":{"x":{"field":"g","type":"nominal","scale":{"domain":["WT","KO"],"paddingInner":0,"paddingOuter":0.2},"axis":{"labels":false,"ticks":false,"title":null}},"y":{"field":"v","type":"quantitative","scale":{"domain":[0,8000],"nice":false},"axis":{"values":[0,2000,4000,6000,8000],"format":"d","title":null}}},
  "layer":[
   {"mark":{"type":"point","filled":true,"size":65,"opacity":1},"encoding":{"xOffset":{"field":"m","type":"nominal","scale":{"paddingOuter":1.5}},"color":{"field":"g","type":"nominal","scale":{"domain":["WT","KO"],"range":["black","#d7282f"]},"legend":null},"shape":{"field":"g","type":"nominal","scale":{"domain":["WT","KO"],"range":["circle","square"]},"legend":null}}},
   {"mark":{"type":"errorbar","extent":"stderr","color":"black","thickness":2,"ticks":{"size":10,"thickness":2,"color":"black"}},"encoding":{}},
   {"transform":[{"aggregate":[{"op":"mean","field":"v","as":"v"}],"groupby":["g"]}],"mark":{"type":"tick","color":"black","thickness":2,"size":20},"encoding":{}},
   {"data":{"name":"sig"},"transform":[{"filter":"datum.p=='FmoDC'"}],"mark":{"type":"rule","color":"black","strokeWidth":2},"encoding":{"x2":{"field":"g2"}}},
   {"data":{"name":"sig"},"transform":[{"filter":"datum.p=='FmoDC'"}],"mark":{"type":"text","fontSize":13,"baseline":"alphabetic"},"encoding":{"x":{"field":"g","type":"nominal","bandPosition":1,"scale":{"domain":["WT","KO"],"paddingInner":0,"paddingOuter":0.2},"axis":{"labels":false,"ticks":false,"title":null}},"text":{"field":"s"}}}
  ]},
 {"width":59,"height":1,"data":{"values":[]},"mark":"point","encoding":{}},
 {"width":55,"height":117,"title":{"text":"B cells","offset":15},"data":{"name":"pts"},"transform":[{"filter":"datum.p=='FB'"}],
  "encoding":{"x":{"field":"g","type":"nominal","scale":{"domain":["WT","KO"],"paddingInner":0,"paddingOuter":0.2},"axis":{"labels":false,"ticks":false,"title":null}},"y":{"field":"v","type":"quantitative","scale":{"domain":[0,20000],"nice":false},"axis":{"values":[0,5000,10000,15000,20000],"format":"d","title":null}}},
  "layer":[
   {"mark":{"type":"point","filled":true,"size":65,"opacity":1},"encoding":{"xOffset":{"field":"m","type":"nominal","scale":{"paddingOuter":1.5}},"color":{"field":"g","type":"nominal","scale":{"domain":["WT","KO"],"range":["black","#d7282f"]},"legend":null},"shape":{"field":"g","type":"nominal","scale":{"domain":["WT","KO"],"range":["circle","square"]},"legend":null}}},
   {"mark":{"type":"errorbar","extent":"stderr","color":"black","thickness":2,"ticks":{"size":10,"thickness":2,"color":"black"}},"encoding":{}},
   {"transform":[{"aggregate":[{"op":"mean","field":"v","as":"v"}],"groupby":["g"]}],"mark":{"type":"tick","color":"black","thickness":2,"size":20},"encoding":{}},
   {"data":{"name":"sig"},"transform":[{"filter":"datum.p=='FB'"}],"mark":{"type":"rule","color":"black","strokeWidth":2},"encoding":{"x2":{"field":"g2"}}},
   {"data":{"name":"sig"},"transform":[{"filter":"datum.p=='FB'"}],"mark":{"type":"text","fontSize":13,"baseline":"alphabetic"},"encoding":{"x":{"field":"g","type":"nominal","bandPosition":1,"scale":{"domain":["WT","KO"],"paddingInner":0,"paddingOuter":0.2},"axis":{"labels":false,"ticks":false,"title":null}},"text":{"field":"s"}}}
  ]},
 {"width":34,"height":1,"data":{"values":[]},"mark":"point","encoding":{}},
 {"width":35,"height":1,"data":{"values":[]},"mark":"point","encoding":{},"title":{"text":"G","fontSize":16,"fontWeight":"bold","anchor":"start","dx":0,"offset":30}},
 {"width":122,"height":116,"title":{"text":["Ag85B-specific","CD4⁺ T cells"],"offset":7},"data":{"name":"gpts"},"transform":[{"filter":"datum.p=='Ag85B'"}],
  "encoding":{"x":{"field":"g","type":"nominal","scale":{"domain":["LN|WT","LN|KO","Lu|WT","Lu|KO"],"paddingInner":0,"paddingOuter":0.17},"axis":{"labels":false,"ticks":false,"title":null}},"y":{"field":"v","type":"quantitative","scale":{"domain":[0,100],"nice":false},"axis":{"values":[0,20,40,60,80,100],"title":"% Thy1.1⁺ (IL-10⁺)","titlePadding":4}}},
  "layer":[
   {"mark":{"type":"point","filled":true,"size":65,"opacity":1},"encoding":{"xOffset":{"field":"m","type":"nominal","scale":{"paddingOuter":1.5}},"color":{"field":"k","type":"nominal","scale":{"domain":["WT","KO"],"range":["black","#d7282f"]},"legend":{"orient":"none","legendX":87,"legendY":143,"title":null,"labelExpr":"datum.label=='WT'?'Bhlhe40⁺/⁺':'Bhlhe40⁻/⁻'","labelFontStyle":"italic","labelFontSize":12,"rowPadding":3,"symbolSize":60}},"shape":{"field":"k","type":"nominal","scale":{"domain":["WT","KO"],"range":["circle","square"]},"legend":{"orient":"none","legendX":87,"legendY":143,"title":null,"labelExpr":"datum.label=='WT'?'Bhlhe40⁺/⁺':'Bhlhe40⁻/⁻'","labelFontStyle":"italic","labelFontSize":12,"rowPadding":3,"symbolSize":60}}}},
   {"mark":{"type":"errorbar","extent":"stderr","color":"black","thickness":2,"ticks":{"size":10,"thickness":2,"color":"black"}},"encoding":{}},
   {"transform":[{"aggregate":[{"op":"mean","field":"v","as":"v"}],"groupby":["g"]}],"mark":{"type":"tick","color":"black","thickness":2,"size":20},"encoding":{}},
   {"data":{"name":"sig"},"transform":[{"filter":"datum.p=='Ag85B'"}],"mark":{"type":"rule","color":"black","strokeWidth":2},"encoding":{"x2":{"field":"g2"}}},
   {"data":{"name":"sig"},"transform":[{"filter":"datum.p=='Ag85B'"}],"mark":{"type":"text","fontSize":13,"baseline":"alphabetic"},"encoding":{"x":{"field":"g","type":"nominal","bandPosition":1,"scale":{"domain":["LN|WT","LN|KO","Lu|WT","Lu|KO"],"paddingInner":0,"paddingOuter":0.17},"axis":{"labels":false,"ticks":false,"title":null}},"text":{"field":"s"}}},
   {"data":{"name":"gdiv"},"transform":[{"filter":"datum.p=='Ag85B'"}],"mark":{"type":"rule","color":"black","strokeWidth":2},"encoding":{"x":{"field":"g","type":"nominal","bandPosition":0,"scale":{"domain":["LN|WT","LN|KO","Lu|WT","Lu|KO"],"paddingInner":0,"paddingOuter":0.17},"axis":{"labels":false,"ticks":false,"title":null}},"y2":{"field":"v2"}}},
   {"data":{"name":"gann"},"transform":[{"filter":"datum.p=='Ag85B'"}],"mark":{"type":"text","fontSize":12,"baseline":"top","lineBreak":"\n","lineHeight":15},"encoding":{"x":{"field":"g","type":"nominal","bandPosition":1,"scale":{"domain":["LN|WT","LN|KO","Lu|WT","Lu|KO"],"paddingInner":0,"paddingOuter":0.17},"axis":{"labels":false,"ticks":false,"title":null}},"text":{"field":"t"}}}
  ]},
 {"width":43,"height":1,"data":{"values":[]},"mark":"point","encoding":{}},
 {"width":123,"height":116,"title":{"text":["ESAT6-specific","CD4⁺ T cells"],"offset":7},"data":{"name":"gpts"},"transform":[{"filter":"datum.p=='ESAT6'"}],
  "encoding":{"x":{"field":"g","type":"nominal","scale":{"domain":["LN|WT","LN|KO","Lu|WT","Lu|KO"],"paddingInner":0,"paddingOuter":0.2},"axis":{"labels":false,"ticks":false,"title":null}},"y":{"field":"v","type":"quantitative","scale":{"domain":[0,100],"nice":false},"axis":{"values":[0,20,40,60,80,100],"title":"% Thy1.1⁺ (IL-10⁺)","titlePadding":-4}}},
  "layer":[
   {"mark":{"type":"point","filled":true,"size":65,"opacity":1},"encoding":{"xOffset":{"field":"m","type":"nominal","scale":{"paddingOuter":1.5}},"color":{"field":"k","type":"nominal","scale":{"domain":["WT","KO"],"range":["black","#d7282f"]},"legend":null},"shape":{"field":"k","type":"nominal","scale":{"domain":["WT","KO"],"range":["circle","square"]},"legend":null}}},
   {"mark":{"type":"errorbar","extent":"stderr","color":"black","thickness":2,"ticks":{"size":10,"thickness":2,"color":"black"}},"encoding":{}},
   {"transform":[{"aggregate":[{"op":"mean","field":"v","as":"v"}],"groupby":["g"]}],"mark":{"type":"tick","color":"black","thickness":2,"size":20},"encoding":{}},
   {"data":{"name":"sig"},"transform":[{"filter":"datum.p=='ESAT6'"}],"mark":{"type":"rule","color":"black","strokeWidth":2},"encoding":{"x2":{"field":"g2"}}},
   {"data":{"name":"sig"},"transform":[{"filter":"datum.p=='ESAT6'"}],"mark":{"type":"text","fontSize":13,"baseline":"alphabetic"},"encoding":{"x":{"field":"g","type":"nominal","bandPosition":1,"scale":{"domain":["LN|WT","LN|KO","Lu|WT","Lu|KO"],"paddingInner":0,"paddingOuter":0.2},"axis":{"labels":false,"ticks":false,"title":null}},"text":{"field":"s"}}},
   {"data":{"name":"gdiv"},"transform":[{"filter":"datum.p=='ESAT6'"}],"mark":{"type":"rule","color":"black","strokeWidth":2},"encoding":{"x":{"field":"g","type":"nominal","bandPosition":0,"scale":{"domain":["LN|WT","LN|KO","Lu|WT","Lu|KO"],"paddingInner":0,"paddingOuter":0.2},"axis":{"labels":false,"ticks":false,"title":null}},"y2":{"field":"v2"}}},
   {"data":{"name":"gann"},"transform":[{"filter":"datum.p=='ESAT6'"}],"mark":{"type":"text","fontSize":12,"baseline":"top","lineBreak":"\n","lineHeight":15},"encoding":{"x":{"field":"g","type":"nominal","bandPosition":1,"scale":{"domain":["LN|WT","LN|KO","Lu|WT","Lu|KO"],"paddingInner":0,"paddingOuter":0.2},"axis":{"labels":false,"ticks":false,"title":null}},"text":{"field":"t"}}}
  ]}
],"spacing":0,"bounds":"flush","resolve":{"scale":{"color":"independent","fill":"independent","stroke":"independent","shape":"independent","size":"independent","xOffset":"independent"},"legend":{"color":"independent","fill":"independent","stroke":"independent","shape":"independent","size":"independent"}}}
]}
